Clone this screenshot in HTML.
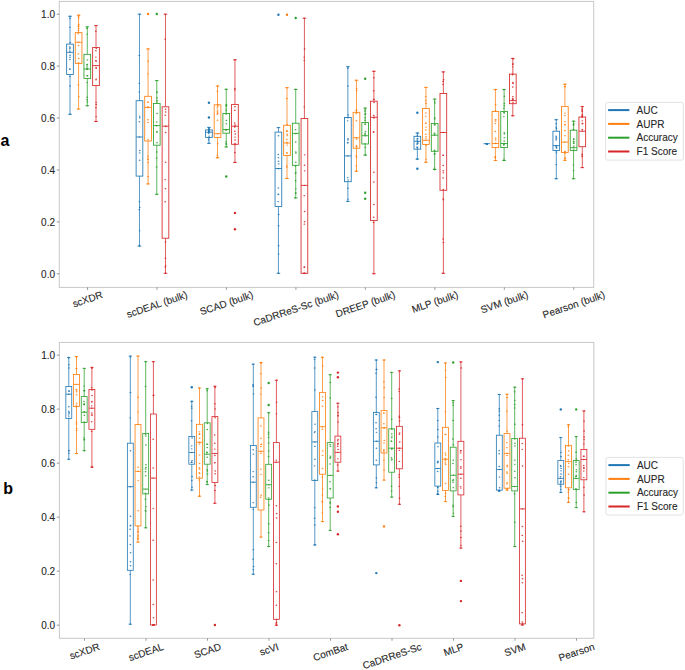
<!DOCTYPE html><html><head><meta charset="utf-8"><style>html,body{margin:0;padding:0;background:#fff;width:685px;height:670px;overflow:hidden}svg{display:block}.t{font-family:"Liberation Sans",sans-serif;font-size:10px;fill:#262626;stroke:#262626;stroke-width:0.1px}.L{font-family:"Liberation Sans",sans-serif;font-size:16px;font-weight:bold;fill:#000}</style></head><body>
<svg width="685" height="670" viewBox="0 0 685 670">
<rect width="685" height="670" fill="#fff"/>
<rect x="59.3" y="1.4" width="534.4" height="286" fill="none" stroke="#c8c8c8" stroke-width="1"/>
<line x1="56.7" y1="273.8" x2="59.3" y2="273.8" stroke="#8a8a8a" stroke-width="0.9"/>
<text x="55" y="277.7" class="t" text-anchor="end">0.0</text>
<line x1="56.7" y1="221.88" x2="59.3" y2="221.88" stroke="#8a8a8a" stroke-width="0.9"/>
<text x="55" y="225.78" class="t" text-anchor="end">0.2</text>
<line x1="56.7" y1="169.96" x2="59.3" y2="169.96" stroke="#8a8a8a" stroke-width="0.9"/>
<text x="55" y="173.86" class="t" text-anchor="end">0.4</text>
<line x1="56.7" y1="118.04" x2="59.3" y2="118.04" stroke="#8a8a8a" stroke-width="0.9"/>
<text x="55" y="121.94" class="t" text-anchor="end">0.6</text>
<line x1="56.7" y1="66.12" x2="59.3" y2="66.12" stroke="#8a8a8a" stroke-width="0.9"/>
<text x="55" y="70.02" class="t" text-anchor="end">0.8</text>
<line x1="56.7" y1="14.2" x2="59.3" y2="14.2" stroke="#8a8a8a" stroke-width="0.9"/>
<text x="55" y="18.1" class="t" text-anchor="end">1.0</text>
<line x1="87.5" y1="287.4" x2="87.5" y2="289.8" stroke="#8a8a8a" stroke-width="0.9"/>
<text class="t" text-anchor="middle" transform="translate(87.5 299.22) rotate(-18.7)" y="3.5">scXDR</text>
<line x1="156.97" y1="287.4" x2="156.97" y2="289.8" stroke="#8a8a8a" stroke-width="0.9"/>
<text class="t" text-anchor="middle" transform="translate(156.97 304.42) rotate(-18.7)" y="3.5">scDEAL (bulk)</text>
<line x1="226.44" y1="287.4" x2="226.44" y2="289.8" stroke="#8a8a8a" stroke-width="0.9"/>
<text class="t" text-anchor="middle" transform="translate(226.44 303.14) rotate(-18.7)" y="3.5">SCAD (bulk)</text>
<line x1="295.91" y1="287.4" x2="295.91" y2="289.8" stroke="#8a8a8a" stroke-width="0.9"/>
<text class="t" text-anchor="middle" transform="translate(295.91 308.58) rotate(-18.7)" y="3.5">CaDRReS-Sc (bulk)</text>
<line x1="365.38" y1="287.4" x2="365.38" y2="289.8" stroke="#8a8a8a" stroke-width="0.9"/>
<text class="t" text-anchor="middle" transform="translate(365.38 304.18) rotate(-18.7)" y="3.5">DREEP (bulk)</text>
<line x1="434.85" y1="287.4" x2="434.85" y2="289.8" stroke="#8a8a8a" stroke-width="0.9"/>
<text class="t" text-anchor="middle" transform="translate(434.85 301.96) rotate(-18.7)" y="3.5">MLP (bulk)</text>
<line x1="504.32" y1="287.4" x2="504.32" y2="289.8" stroke="#8a8a8a" stroke-width="0.9"/>
<text class="t" text-anchor="middle" transform="translate(504.32 302.16) rotate(-18.7)" y="3.5">SVM (bulk)</text>
<line x1="573.79" y1="287.4" x2="573.79" y2="289.8" stroke="#8a8a8a" stroke-width="0.9"/>
<text class="t" text-anchor="middle" transform="translate(573.79 304.66) rotate(-18.7)" y="3.5">Pearson (bulk)</text>
<g stroke="#1f77b4" stroke-width="0.85" fill="none">
<path stroke-width="0.75" d="M70 16.3V44.1M70 74.5V114.3"/>
<path d="M68.2 16.3h3.6M68.2 114.3h3.6"/>
<rect x="66.65" y="44.1" width="6.7" height="30.4"/>
<path d="M66.65 52.3h6.7"/>
</g>
<g fill="#1f77b4" fill-opacity="0.85">
<ellipse cx="69.81" cy="48.69" rx="0.9" ry="0.7"/>
<ellipse cx="70.05" cy="18.31" rx="0.9" ry="0.7"/>
<ellipse cx="70.08" cy="55.22" rx="0.9" ry="0.7"/>
<ellipse cx="69.92" cy="59.53" rx="0.9" ry="0.7"/>
<ellipse cx="70.03" cy="57.28" rx="0.9" ry="0.7"/>
<ellipse cx="69.74" cy="46.86" rx="0.9" ry="0.7"/>
<ellipse cx="69.74" cy="69.24" rx="0.9" ry="0.7"/>
<ellipse cx="69.82" cy="50.89" rx="0.9" ry="0.7"/>
<ellipse cx="70.11" cy="42.65" rx="0.9" ry="0.7"/>
<ellipse cx="69.96" cy="27.33" rx="0.9" ry="0.7"/>
<ellipse cx="69.89" cy="76.35" rx="0.9" ry="0.7"/>
<ellipse cx="70.05" cy="86.03" rx="0.9" ry="0.7"/>
<ellipse cx="69.97" cy="47.68" rx="0.9" ry="0.7"/>
<ellipse cx="69.88" cy="68.91" rx="0.9" ry="0.7"/>
<ellipse cx="70.18" cy="16.3" rx="0.9" ry="0.7"/>
<ellipse cx="70.12" cy="114.3" rx="0.9" ry="0.7"/>
<ellipse cx="69.85" cy="52.3" rx="0.9" ry="0.7"/>
</g>
<g stroke="#ff7f0e" stroke-width="0.85" fill="none">
<path stroke-width="0.75" d="M78.6 15.2V32.6M78.6 63.4V109"/>
<path d="M76.8 15.2h3.6M76.8 109h3.6"/>
<rect x="75.25" y="32.6" width="6.7" height="30.8"/>
<path d="M75.25 42.3h6.7"/>
</g>
<g fill="#ff7f0e" fill-opacity="0.85">
<ellipse cx="78.9" cy="24.34" rx="0.9" ry="0.7"/>
<ellipse cx="78.79" cy="96.66" rx="0.9" ry="0.7"/>
<ellipse cx="78.47" cy="62.79" rx="0.9" ry="0.7"/>
<ellipse cx="78.53" cy="45.48" rx="0.9" ry="0.7"/>
<ellipse cx="78.7" cy="17.84" rx="0.9" ry="0.7"/>
<ellipse cx="78.31" cy="33.81" rx="0.9" ry="0.7"/>
<ellipse cx="78.58" cy="28.5" rx="0.9" ry="0.7"/>
<ellipse cx="78.4" cy="30.43" rx="0.9" ry="0.7"/>
<ellipse cx="78.37" cy="54.02" rx="0.9" ry="0.7"/>
<ellipse cx="78.34" cy="25.29" rx="0.9" ry="0.7"/>
<ellipse cx="78.76" cy="58.47" rx="0.9" ry="0.7"/>
<ellipse cx="78.38" cy="85.02" rx="0.9" ry="0.7"/>
<ellipse cx="78.45" cy="16.26" rx="0.9" ry="0.7"/>
<ellipse cx="78.53" cy="26.46" rx="0.9" ry="0.7"/>
<ellipse cx="78.82" cy="15.2" rx="0.9" ry="0.7"/>
<ellipse cx="78.35" cy="109" rx="0.9" ry="0.7"/>
<ellipse cx="78.57" cy="42.3" rx="0.9" ry="0.7"/>
</g>
<g stroke="#2ca02c" stroke-width="0.85" fill="none">
<path stroke-width="0.75" d="M87.3 26.9V54.3M87.3 78.5V105.7"/>
<path d="M85.5 26.9h3.6M85.5 105.7h3.6"/>
<rect x="83.95" y="54.3" width="6.7" height="24.2"/>
<path d="M83.95 69h6.7"/>
</g>
<g fill="#2ca02c" fill-opacity="0.85">
<ellipse cx="87.52" cy="75.68" rx="0.9" ry="0.7"/>
<ellipse cx="87.48" cy="102" rx="0.9" ry="0.7"/>
<ellipse cx="87.24" cy="64.35" rx="0.9" ry="0.7"/>
<ellipse cx="87.24" cy="75.7" rx="0.9" ry="0.7"/>
<ellipse cx="87.06" cy="82.61" rx="0.9" ry="0.7"/>
<ellipse cx="87.38" cy="59.91" rx="0.9" ry="0.7"/>
<ellipse cx="87.04" cy="66.04" rx="0.9" ry="0.7"/>
<ellipse cx="87.04" cy="34.1" rx="0.9" ry="0.7"/>
<ellipse cx="87.13" cy="64.44" rx="0.9" ry="0.7"/>
<ellipse cx="87.1" cy="68.01" rx="0.9" ry="0.7"/>
<ellipse cx="87.2" cy="97.28" rx="0.9" ry="0.7"/>
<ellipse cx="87.03" cy="69.25" rx="0.9" ry="0.7"/>
<ellipse cx="87" cy="28.38" rx="0.9" ry="0.7"/>
<ellipse cx="87.09" cy="99.72" rx="0.9" ry="0.7"/>
<ellipse cx="87.06" cy="26.9" rx="0.9" ry="0.7"/>
<ellipse cx="87.22" cy="105.7" rx="0.9" ry="0.7"/>
<ellipse cx="87.02" cy="69" rx="0.9" ry="0.7"/>
</g>
<g stroke="#d62728" stroke-width="0.85" fill="none">
<path stroke-width="0.75" d="M96 25.6V47.5M96 85.6V121.5"/>
<path d="M94.2 25.6h3.6M94.2 121.5h3.6"/>
<rect x="92.65" y="47.5" width="6.7" height="38.1"/>
<path d="M92.65 65.6h6.7"/>
</g>
<g fill="#d62728" fill-opacity="0.85">
<ellipse cx="95.92" cy="107.65" rx="0.9" ry="0.7"/>
<ellipse cx="95.8" cy="57.11" rx="0.9" ry="0.7"/>
<ellipse cx="96.16" cy="61.37" rx="0.9" ry="0.7"/>
<ellipse cx="96.02" cy="79.84" rx="0.9" ry="0.7"/>
<ellipse cx="96.17" cy="102.33" rx="0.9" ry="0.7"/>
<ellipse cx="95.9" cy="50.77" rx="0.9" ry="0.7"/>
<ellipse cx="95.83" cy="60.55" rx="0.9" ry="0.7"/>
<ellipse cx="96.19" cy="79.08" rx="0.9" ry="0.7"/>
<ellipse cx="96.29" cy="48.38" rx="0.9" ry="0.7"/>
<ellipse cx="96.21" cy="104.56" rx="0.9" ry="0.7"/>
<ellipse cx="96.18" cy="68.19" rx="0.9" ry="0.7"/>
<ellipse cx="96.19" cy="67.62" rx="0.9" ry="0.7"/>
<ellipse cx="96.14" cy="116.59" rx="0.9" ry="0.7"/>
<ellipse cx="95.84" cy="31.32" rx="0.9" ry="0.7"/>
<ellipse cx="96.01" cy="25.6" rx="0.9" ry="0.7"/>
<ellipse cx="95.91" cy="121.5" rx="0.9" ry="0.7"/>
<ellipse cx="95.72" cy="65.6" rx="0.9" ry="0.7"/>
</g>
<g stroke="#1f77b4" stroke-width="0.85" fill="none">
<path stroke-width="0.75" d="M139.47 14.2V100.7M139.47 176.1V246.1"/>
<path d="M137.67 14.2h3.6M137.67 246.1h3.6"/>
<rect x="136.12" y="100.7" width="6.7" height="75.4"/>
<path d="M136.12 137h6.7"/>
</g>
<g fill="#1f77b4" fill-opacity="0.85">
<ellipse cx="139.37" cy="121.77" rx="0.9" ry="0.7"/>
<ellipse cx="139.65" cy="152.92" rx="0.9" ry="0.7"/>
<ellipse cx="139.75" cy="207.41" rx="0.9" ry="0.7"/>
<ellipse cx="139.41" cy="245.26" rx="0.9" ry="0.7"/>
<ellipse cx="139.41" cy="201.62" rx="0.9" ry="0.7"/>
<ellipse cx="139.74" cy="117.8" rx="0.9" ry="0.7"/>
<ellipse cx="139.6" cy="116.11" rx="0.9" ry="0.7"/>
<ellipse cx="139.27" cy="92.08" rx="0.9" ry="0.7"/>
<ellipse cx="139.25" cy="209.66" rx="0.9" ry="0.7"/>
<ellipse cx="139.26" cy="83.37" rx="0.9" ry="0.7"/>
<ellipse cx="139.71" cy="150.51" rx="0.9" ry="0.7"/>
<ellipse cx="139.65" cy="230.86" rx="0.9" ry="0.7"/>
<ellipse cx="139.26" cy="55.55" rx="0.9" ry="0.7"/>
<ellipse cx="139.67" cy="160.2" rx="0.9" ry="0.7"/>
<ellipse cx="139.76" cy="14.2" rx="0.9" ry="0.7"/>
<ellipse cx="139.56" cy="246.1" rx="0.9" ry="0.7"/>
<ellipse cx="139.38" cy="137" rx="0.9" ry="0.7"/>
</g>
<g stroke="#ff7f0e" stroke-width="0.85" fill="none">
<path stroke-width="0.75" d="M148.07 48.9V96.3M148.07 141V183.9"/>
<path d="M146.27 48.9h3.6M146.27 183.9h3.6"/>
<rect x="144.72" y="96.3" width="6.7" height="44.7"/>
<path d="M144.72 107.4h6.7"/>
</g>
<g fill="#ff7f0e" fill-opacity="0.85">
<ellipse cx="147.78" cy="102.15" rx="0.9" ry="0.7"/>
<ellipse cx="148.03" cy="139.7" rx="0.9" ry="0.7"/>
<ellipse cx="147.88" cy="73.86" rx="0.9" ry="0.7"/>
<ellipse cx="147.77" cy="159.61" rx="0.9" ry="0.7"/>
<ellipse cx="148.25" cy="176.44" rx="0.9" ry="0.7"/>
<ellipse cx="147.87" cy="107.56" rx="0.9" ry="0.7"/>
<ellipse cx="148.05" cy="107.05" rx="0.9" ry="0.7"/>
<ellipse cx="148.21" cy="61.19" rx="0.9" ry="0.7"/>
<ellipse cx="148.1" cy="102.16" rx="0.9" ry="0.7"/>
<ellipse cx="147.97" cy="156.18" rx="0.9" ry="0.7"/>
<ellipse cx="148.08" cy="122.38" rx="0.9" ry="0.7"/>
<ellipse cx="148.1" cy="159.04" rx="0.9" ry="0.7"/>
<ellipse cx="148.24" cy="162.52" rx="0.9" ry="0.7"/>
<ellipse cx="147.83" cy="119.7" rx="0.9" ry="0.7"/>
<ellipse cx="148.11" cy="48.9" rx="0.9" ry="0.7"/>
<ellipse cx="147.92" cy="183.9" rx="0.9" ry="0.7"/>
<ellipse cx="147.94" cy="107.4" rx="0.9" ry="0.7"/>
</g>
<circle cx="148.07" cy="14" r="1.2" fill="#ff7f0e"/>
<g stroke="#2ca02c" stroke-width="0.85" fill="none">
<path stroke-width="0.75" d="M156.77 80.6V103.4M156.77 145.2V194.3"/>
<path d="M154.97 80.6h3.6M154.97 194.3h3.6"/>
<rect x="153.42" y="103.4" width="6.7" height="41.8"/>
<path d="M153.42 125.6h6.7"/>
</g>
<g fill="#2ca02c" fill-opacity="0.85">
<ellipse cx="156.94" cy="92.18" rx="0.9" ry="0.7"/>
<ellipse cx="157.01" cy="97.93" rx="0.9" ry="0.7"/>
<ellipse cx="156.56" cy="166.96" rx="0.9" ry="0.7"/>
<ellipse cx="156.9" cy="92.13" rx="0.9" ry="0.7"/>
<ellipse cx="156.87" cy="132.36" rx="0.9" ry="0.7"/>
<ellipse cx="156.56" cy="125.69" rx="0.9" ry="0.7"/>
<ellipse cx="157" cy="142.75" rx="0.9" ry="0.7"/>
<ellipse cx="157.05" cy="100.59" rx="0.9" ry="0.7"/>
<ellipse cx="156.6" cy="157.95" rx="0.9" ry="0.7"/>
<ellipse cx="157.04" cy="102.11" rx="0.9" ry="0.7"/>
<ellipse cx="156.71" cy="151.93" rx="0.9" ry="0.7"/>
<ellipse cx="156.76" cy="121.88" rx="0.9" ry="0.7"/>
<ellipse cx="157.06" cy="113.46" rx="0.9" ry="0.7"/>
<ellipse cx="156.97" cy="131.38" rx="0.9" ry="0.7"/>
<ellipse cx="156.57" cy="80.6" rx="0.9" ry="0.7"/>
<ellipse cx="156.73" cy="194.3" rx="0.9" ry="0.7"/>
<ellipse cx="156.78" cy="125.6" rx="0.9" ry="0.7"/>
</g>
<circle cx="156.77" cy="14" r="1.2" fill="#2ca02c"/>
<g stroke="#d62728" stroke-width="0.85" fill="none">
<path stroke-width="0.75" d="M165.47 14.2V106.8M165.47 238.2V273.3"/>
<path d="M163.67 14.2h3.6M163.67 273.3h3.6"/>
<rect x="162.12" y="106.8" width="6.7" height="131.4"/>
<path d="M162.12 126.2h6.7"/>
</g>
<g fill="#d62728" fill-opacity="0.85">
<ellipse cx="165.59" cy="132.52" rx="0.9" ry="0.7"/>
<ellipse cx="165.22" cy="201.69" rx="0.9" ry="0.7"/>
<ellipse cx="165.2" cy="179.6" rx="0.9" ry="0.7"/>
<ellipse cx="165.58" cy="109.18" rx="0.9" ry="0.7"/>
<ellipse cx="165.43" cy="188.78" rx="0.9" ry="0.7"/>
<ellipse cx="165.21" cy="115.25" rx="0.9" ry="0.7"/>
<ellipse cx="165.73" cy="265.87" rx="0.9" ry="0.7"/>
<ellipse cx="165.55" cy="241.88" rx="0.9" ry="0.7"/>
<ellipse cx="165.65" cy="112" rx="0.9" ry="0.7"/>
<ellipse cx="165.22" cy="39.24" rx="0.9" ry="0.7"/>
<ellipse cx="165.68" cy="162.28" rx="0.9" ry="0.7"/>
<ellipse cx="165.21" cy="266.95" rx="0.9" ry="0.7"/>
<ellipse cx="165.69" cy="126.43" rx="0.9" ry="0.7"/>
<ellipse cx="165.44" cy="258.23" rx="0.9" ry="0.7"/>
<ellipse cx="165.37" cy="14.2" rx="0.9" ry="0.7"/>
<ellipse cx="165.5" cy="273.3" rx="0.9" ry="0.7"/>
<ellipse cx="165.73" cy="126.2" rx="0.9" ry="0.7"/>
</g>
<g stroke="#1f77b4" stroke-width="0.85" fill="none">
<path stroke-width="0.75" d="M208.94 127.4V129.9M208.94 137.4V143.3"/>
<path d="M207.14 127.4h3.6M207.14 143.3h3.6"/>
<rect x="205.59" y="129.9" width="6.7" height="7.5"/>
<path d="M205.59 132.2h6.7"/>
</g>
<g fill="#1f77b4" fill-opacity="0.85">
<ellipse cx="208.88" cy="130.87" rx="0.9" ry="0.7"/>
<ellipse cx="208.94" cy="131.69" rx="0.9" ry="0.7"/>
<ellipse cx="209.05" cy="131.11" rx="0.9" ry="0.7"/>
<ellipse cx="209.23" cy="131.41" rx="0.9" ry="0.7"/>
<ellipse cx="208.85" cy="132.19" rx="0.9" ry="0.7"/>
<ellipse cx="209.14" cy="128.12" rx="0.9" ry="0.7"/>
<ellipse cx="209.06" cy="131.23" rx="0.9" ry="0.7"/>
<ellipse cx="209.02" cy="130.04" rx="0.9" ry="0.7"/>
<ellipse cx="208.88" cy="130.02" rx="0.9" ry="0.7"/>
<ellipse cx="208.85" cy="128.78" rx="0.9" ry="0.7"/>
<ellipse cx="208.67" cy="133.46" rx="0.9" ry="0.7"/>
<ellipse cx="208.72" cy="138.03" rx="0.9" ry="0.7"/>
<ellipse cx="208.68" cy="139.95" rx="0.9" ry="0.7"/>
<ellipse cx="209.08" cy="136.16" rx="0.9" ry="0.7"/>
<ellipse cx="208.79" cy="127.4" rx="0.9" ry="0.7"/>
<ellipse cx="208.74" cy="143.3" rx="0.9" ry="0.7"/>
<ellipse cx="208.69" cy="132.2" rx="0.9" ry="0.7"/>
</g>
<circle cx="208.94" cy="102.7" r="1.2" fill="#1f77b4"/>
<circle cx="208.94" cy="117.5" r="1.2" fill="#1f77b4"/>
<g stroke="#ff7f0e" stroke-width="0.85" fill="none">
<path stroke-width="0.75" d="M217.54 86V104.8M217.54 137.4V157.8"/>
<path d="M215.74 86h3.6M215.74 157.8h3.6"/>
<rect x="214.19" y="104.8" width="6.7" height="32.6"/>
<path d="M214.19 133.7h6.7"/>
</g>
<g fill="#ff7f0e" fill-opacity="0.85">
<ellipse cx="217.25" cy="155.16" rx="0.9" ry="0.7"/>
<ellipse cx="217.42" cy="91.3" rx="0.9" ry="0.7"/>
<ellipse cx="217.38" cy="114.35" rx="0.9" ry="0.7"/>
<ellipse cx="217.59" cy="109.94" rx="0.9" ry="0.7"/>
<ellipse cx="217.56" cy="113.38" rx="0.9" ry="0.7"/>
<ellipse cx="217.69" cy="157.24" rx="0.9" ry="0.7"/>
<ellipse cx="217.63" cy="112.77" rx="0.9" ry="0.7"/>
<ellipse cx="217.67" cy="143.71" rx="0.9" ry="0.7"/>
<ellipse cx="217.77" cy="104.83" rx="0.9" ry="0.7"/>
<ellipse cx="217.47" cy="120.27" rx="0.9" ry="0.7"/>
<ellipse cx="217.44" cy="111.35" rx="0.9" ry="0.7"/>
<ellipse cx="217.83" cy="104.96" rx="0.9" ry="0.7"/>
<ellipse cx="217.33" cy="107.73" rx="0.9" ry="0.7"/>
<ellipse cx="217.67" cy="106.16" rx="0.9" ry="0.7"/>
<ellipse cx="217.63" cy="86" rx="0.9" ry="0.7"/>
<ellipse cx="217.27" cy="157.8" rx="0.9" ry="0.7"/>
<ellipse cx="217.74" cy="133.7" rx="0.9" ry="0.7"/>
</g>
<g stroke="#2ca02c" stroke-width="0.85" fill="none">
<path stroke-width="0.75" d="M226.24 89.3V113.4M226.24 133.2V146.9"/>
<path d="M224.44 89.3h3.6M224.44 146.9h3.6"/>
<rect x="222.89" y="113.4" width="6.7" height="19.8"/>
<path d="M222.89 129.5h6.7"/>
</g>
<g fill="#2ca02c" fill-opacity="0.85">
<ellipse cx="226.24" cy="141.79" rx="0.9" ry="0.7"/>
<ellipse cx="226.26" cy="108.87" rx="0.9" ry="0.7"/>
<ellipse cx="226.34" cy="123.77" rx="0.9" ry="0.7"/>
<ellipse cx="225.98" cy="129.93" rx="0.9" ry="0.7"/>
<ellipse cx="226.38" cy="144.52" rx="0.9" ry="0.7"/>
<ellipse cx="226.09" cy="110.82" rx="0.9" ry="0.7"/>
<ellipse cx="225.98" cy="106.01" rx="0.9" ry="0.7"/>
<ellipse cx="226.1" cy="114.02" rx="0.9" ry="0.7"/>
<ellipse cx="226.38" cy="120.54" rx="0.9" ry="0.7"/>
<ellipse cx="226.06" cy="129.95" rx="0.9" ry="0.7"/>
<ellipse cx="226.38" cy="104.43" rx="0.9" ry="0.7"/>
<ellipse cx="226.53" cy="105.7" rx="0.9" ry="0.7"/>
<ellipse cx="226.24" cy="113.47" rx="0.9" ry="0.7"/>
<ellipse cx="226.17" cy="143.45" rx="0.9" ry="0.7"/>
<ellipse cx="226.23" cy="89.3" rx="0.9" ry="0.7"/>
<ellipse cx="226.35" cy="146.9" rx="0.9" ry="0.7"/>
<ellipse cx="226.4" cy="129.5" rx="0.9" ry="0.7"/>
</g>
<circle cx="226.24" cy="176.5" r="1.2" fill="#2ca02c"/>
<g stroke="#d62728" stroke-width="0.85" fill="none">
<path stroke-width="0.75" d="M234.94 59.8V104.4M234.94 144.3V162.4"/>
<path d="M233.14 59.8h3.6M233.14 162.4h3.6"/>
<rect x="231.59" y="104.4" width="6.7" height="39.9"/>
<path d="M231.59 126.2h6.7"/>
</g>
<g fill="#d62728" fill-opacity="0.85">
<ellipse cx="234.8" cy="88.47" rx="0.9" ry="0.7"/>
<ellipse cx="234.77" cy="110.28" rx="0.9" ry="0.7"/>
<ellipse cx="235.21" cy="134.05" rx="0.9" ry="0.7"/>
<ellipse cx="234.77" cy="127.05" rx="0.9" ry="0.7"/>
<ellipse cx="234.99" cy="106.82" rx="0.9" ry="0.7"/>
<ellipse cx="234.73" cy="131.21" rx="0.9" ry="0.7"/>
<ellipse cx="234.95" cy="89.94" rx="0.9" ry="0.7"/>
<ellipse cx="235.21" cy="125.01" rx="0.9" ry="0.7"/>
<ellipse cx="234.72" cy="123.01" rx="0.9" ry="0.7"/>
<ellipse cx="235.13" cy="140.06" rx="0.9" ry="0.7"/>
<ellipse cx="234.95" cy="143.43" rx="0.9" ry="0.7"/>
<ellipse cx="235.17" cy="144.62" rx="0.9" ry="0.7"/>
<ellipse cx="235.06" cy="137.11" rx="0.9" ry="0.7"/>
<ellipse cx="234.78" cy="152.44" rx="0.9" ry="0.7"/>
<ellipse cx="235.18" cy="59.8" rx="0.9" ry="0.7"/>
<ellipse cx="234.93" cy="162.4" rx="0.9" ry="0.7"/>
<ellipse cx="234.65" cy="126.2" rx="0.9" ry="0.7"/>
</g>
<circle cx="234.94" cy="213" r="1.2" fill="#d62728"/>
<circle cx="234.94" cy="229.3" r="1.2" fill="#d62728"/>
<g stroke="#1f77b4" stroke-width="0.85" fill="none">
<path stroke-width="0.75" d="M278.41 127.6V132.1M278.41 206.4V273.3"/>
<path d="M276.61 127.6h3.6M276.61 273.3h3.6"/>
<rect x="275.06" y="132.1" width="6.7" height="74.3"/>
<path d="M275.06 168.5h6.7"/>
</g>
<g fill="#1f77b4" fill-opacity="0.85">
<ellipse cx="278.26" cy="168.63" rx="0.9" ry="0.7"/>
<ellipse cx="278.27" cy="154.53" rx="0.9" ry="0.7"/>
<ellipse cx="278.42" cy="157.66" rx="0.9" ry="0.7"/>
<ellipse cx="278.22" cy="194.53" rx="0.9" ry="0.7"/>
<ellipse cx="278.33" cy="187.88" rx="0.9" ry="0.7"/>
<ellipse cx="278.68" cy="214.43" rx="0.9" ry="0.7"/>
<ellipse cx="278.64" cy="254.1" rx="0.9" ry="0.7"/>
<ellipse cx="278.6" cy="225.79" rx="0.9" ry="0.7"/>
<ellipse cx="278.49" cy="161.29" rx="0.9" ry="0.7"/>
<ellipse cx="278.66" cy="245.82" rx="0.9" ry="0.7"/>
<ellipse cx="278.67" cy="163.9" rx="0.9" ry="0.7"/>
<ellipse cx="278.44" cy="135.69" rx="0.9" ry="0.7"/>
<ellipse cx="278.54" cy="194.12" rx="0.9" ry="0.7"/>
<ellipse cx="278.14" cy="201.61" rx="0.9" ry="0.7"/>
<ellipse cx="278.55" cy="127.6" rx="0.9" ry="0.7"/>
<ellipse cx="278.38" cy="273.3" rx="0.9" ry="0.7"/>
<ellipse cx="278.56" cy="168.5" rx="0.9" ry="0.7"/>
</g>
<circle cx="278.41" cy="14.8" r="1.2" fill="#1f77b4"/>
<g stroke="#ff7f0e" stroke-width="0.85" fill="none">
<path stroke-width="0.75" d="M287.01 87.7V125.3M287.01 155.5V178.5"/>
<path d="M285.21 87.7h3.6M285.21 178.5h3.6"/>
<rect x="283.66" y="125.3" width="6.7" height="30.2"/>
<path d="M283.66 143h6.7"/>
</g>
<g fill="#ff7f0e" fill-opacity="0.85">
<ellipse cx="286.76" cy="98.46" rx="0.9" ry="0.7"/>
<ellipse cx="286.85" cy="153.29" rx="0.9" ry="0.7"/>
<ellipse cx="286.87" cy="139.56" rx="0.9" ry="0.7"/>
<ellipse cx="287.05" cy="134.29" rx="0.9" ry="0.7"/>
<ellipse cx="287.24" cy="124.41" rx="0.9" ry="0.7"/>
<ellipse cx="287.16" cy="145.11" rx="0.9" ry="0.7"/>
<ellipse cx="286.96" cy="142.13" rx="0.9" ry="0.7"/>
<ellipse cx="286.96" cy="130.35" rx="0.9" ry="0.7"/>
<ellipse cx="287.02" cy="131.58" rx="0.9" ry="0.7"/>
<ellipse cx="286.94" cy="166.93" rx="0.9" ry="0.7"/>
<ellipse cx="286.91" cy="152.67" rx="0.9" ry="0.7"/>
<ellipse cx="286.75" cy="165.85" rx="0.9" ry="0.7"/>
<ellipse cx="286.88" cy="131.11" rx="0.9" ry="0.7"/>
<ellipse cx="287.29" cy="135.63" rx="0.9" ry="0.7"/>
<ellipse cx="286.79" cy="87.7" rx="0.9" ry="0.7"/>
<ellipse cx="287.01" cy="178.5" rx="0.9" ry="0.7"/>
<ellipse cx="287.09" cy="143" rx="0.9" ry="0.7"/>
</g>
<circle cx="287.01" cy="14.8" r="1.2" fill="#ff7f0e"/>
<g stroke="#2ca02c" stroke-width="0.85" fill="none">
<path stroke-width="0.75" d="M295.71 89.4V123.2M295.71 165.3V197.9"/>
<path d="M293.91 89.4h3.6M293.91 197.9h3.6"/>
<rect x="292.36" y="123.2" width="6.7" height="42.1"/>
<path d="M292.36 133.4h6.7"/>
</g>
<g fill="#2ca02c" fill-opacity="0.85">
<ellipse cx="295.8" cy="172.34" rx="0.9" ry="0.7"/>
<ellipse cx="295.87" cy="133.66" rx="0.9" ry="0.7"/>
<ellipse cx="295.68" cy="141.97" rx="0.9" ry="0.7"/>
<ellipse cx="295.74" cy="192.97" rx="0.9" ry="0.7"/>
<ellipse cx="295.43" cy="166.01" rx="0.9" ry="0.7"/>
<ellipse cx="295.88" cy="153.07" rx="0.9" ry="0.7"/>
<ellipse cx="295.55" cy="180.73" rx="0.9" ry="0.7"/>
<ellipse cx="295.96" cy="89.41" rx="0.9" ry="0.7"/>
<ellipse cx="295.8" cy="162.22" rx="0.9" ry="0.7"/>
<ellipse cx="295.59" cy="193.19" rx="0.9" ry="0.7"/>
<ellipse cx="295.49" cy="173.4" rx="0.9" ry="0.7"/>
<ellipse cx="295.56" cy="129.7" rx="0.9" ry="0.7"/>
<ellipse cx="295.79" cy="151.92" rx="0.9" ry="0.7"/>
<ellipse cx="295.83" cy="188.83" rx="0.9" ry="0.7"/>
<ellipse cx="295.48" cy="89.4" rx="0.9" ry="0.7"/>
<ellipse cx="295.45" cy="197.9" rx="0.9" ry="0.7"/>
<ellipse cx="295.72" cy="133.4" rx="0.9" ry="0.7"/>
</g>
<circle cx="295.71" cy="18" r="1.2" fill="#2ca02c"/>
<g stroke="#d62728" stroke-width="0.85" fill="none">
<path stroke-width="0.75" d="M304.41 18.2V118.5M304.41 273.3V273.3"/>
<path d="M302.61 18.2h3.6M302.61 273.3h3.6"/>
<rect x="301.06" y="118.5" width="6.7" height="154.8"/>
<path d="M301.06 185.4h6.7"/>
</g>
<g fill="#d62728" fill-opacity="0.85">
<ellipse cx="304.23" cy="57.12" rx="0.9" ry="0.7"/>
<ellipse cx="304.59" cy="211.54" rx="0.9" ry="0.7"/>
<ellipse cx="304.55" cy="165.18" rx="0.9" ry="0.7"/>
<ellipse cx="304.41" cy="266.94" rx="0.9" ry="0.7"/>
<ellipse cx="304.23" cy="106.84" rx="0.9" ry="0.7"/>
<ellipse cx="304.69" cy="154.84" rx="0.9" ry="0.7"/>
<ellipse cx="304.3" cy="267.2" rx="0.9" ry="0.7"/>
<ellipse cx="304.6" cy="49.03" rx="0.9" ry="0.7"/>
<ellipse cx="304.25" cy="195.64" rx="0.9" ry="0.7"/>
<ellipse cx="304.24" cy="60.33" rx="0.9" ry="0.7"/>
<ellipse cx="304.57" cy="221.81" rx="0.9" ry="0.7"/>
<ellipse cx="304.29" cy="273.3" rx="0.9" ry="0.7"/>
<ellipse cx="304.68" cy="170.83" rx="0.9" ry="0.7"/>
<ellipse cx="304.41" cy="224.16" rx="0.9" ry="0.7"/>
<ellipse cx="304.22" cy="18.2" rx="0.9" ry="0.7"/>
<ellipse cx="304.24" cy="273.3" rx="0.9" ry="0.7"/>
<ellipse cx="304.36" cy="185.4" rx="0.9" ry="0.7"/>
</g>
<g stroke="#1f77b4" stroke-width="0.85" fill="none">
<path stroke-width="0.75" d="M347.88 66.7V117.5M347.88 181.7V201.4"/>
<path d="M346.08 66.7h3.6M346.08 201.4h3.6"/>
<rect x="344.53" y="117.5" width="6.7" height="64.2"/>
<path d="M344.53 155.9h6.7"/>
</g>
<g fill="#1f77b4" fill-opacity="0.85">
<ellipse cx="348.15" cy="114.9" rx="0.9" ry="0.7"/>
<ellipse cx="347.65" cy="142.76" rx="0.9" ry="0.7"/>
<ellipse cx="348.16" cy="180.04" rx="0.9" ry="0.7"/>
<ellipse cx="347.7" cy="120.83" rx="0.9" ry="0.7"/>
<ellipse cx="347.79" cy="142.75" rx="0.9" ry="0.7"/>
<ellipse cx="348.07" cy="199.11" rx="0.9" ry="0.7"/>
<ellipse cx="348.07" cy="117.37" rx="0.9" ry="0.7"/>
<ellipse cx="347.84" cy="188.19" rx="0.9" ry="0.7"/>
<ellipse cx="347.61" cy="177.58" rx="0.9" ry="0.7"/>
<ellipse cx="347.86" cy="68.32" rx="0.9" ry="0.7"/>
<ellipse cx="347.8" cy="85.93" rx="0.9" ry="0.7"/>
<ellipse cx="348.13" cy="138.79" rx="0.9" ry="0.7"/>
<ellipse cx="347.7" cy="117.68" rx="0.9" ry="0.7"/>
<ellipse cx="347.8" cy="140.06" rx="0.9" ry="0.7"/>
<ellipse cx="348.12" cy="66.7" rx="0.9" ry="0.7"/>
<ellipse cx="347.6" cy="201.4" rx="0.9" ry="0.7"/>
<ellipse cx="347.83" cy="155.9" rx="0.9" ry="0.7"/>
</g>
<g stroke="#ff7f0e" stroke-width="0.85" fill="none">
<path stroke-width="0.75" d="M356.48 80.3V112.3M356.48 148.2V171.2"/>
<path d="M354.68 80.3h3.6M354.68 171.2h3.6"/>
<rect x="353.13" y="112.3" width="6.7" height="35.9"/>
<path d="M353.13 137.8h6.7"/>
</g>
<g fill="#ff7f0e" fill-opacity="0.85">
<ellipse cx="356.33" cy="165.83" rx="0.9" ry="0.7"/>
<ellipse cx="356.44" cy="113.55" rx="0.9" ry="0.7"/>
<ellipse cx="356.48" cy="145.33" rx="0.9" ry="0.7"/>
<ellipse cx="356.74" cy="139.13" rx="0.9" ry="0.7"/>
<ellipse cx="356.29" cy="156" rx="0.9" ry="0.7"/>
<ellipse cx="356.66" cy="146.68" rx="0.9" ry="0.7"/>
<ellipse cx="356.62" cy="88.69" rx="0.9" ry="0.7"/>
<ellipse cx="356.67" cy="90.43" rx="0.9" ry="0.7"/>
<ellipse cx="356.64" cy="112.44" rx="0.9" ry="0.7"/>
<ellipse cx="356.54" cy="109.63" rx="0.9" ry="0.7"/>
<ellipse cx="356.38" cy="110.48" rx="0.9" ry="0.7"/>
<ellipse cx="356.37" cy="120.7" rx="0.9" ry="0.7"/>
<ellipse cx="356.4" cy="146.65" rx="0.9" ry="0.7"/>
<ellipse cx="356.65" cy="157.09" rx="0.9" ry="0.7"/>
<ellipse cx="356.23" cy="80.3" rx="0.9" ry="0.7"/>
<ellipse cx="356.3" cy="171.2" rx="0.9" ry="0.7"/>
<ellipse cx="356.63" cy="137.8" rx="0.9" ry="0.7"/>
</g>
<g stroke="#2ca02c" stroke-width="0.85" fill="none">
<path stroke-width="0.75" d="M365.18 108.1V122.5M365.18 144V155.1"/>
<path d="M363.38 108.1h3.6M363.38 155.1h3.6"/>
<rect x="361.83" y="122.5" width="6.7" height="21.5"/>
<path d="M361.83 135.7h6.7"/>
</g>
<g fill="#2ca02c" fill-opacity="0.85">
<ellipse cx="365.03" cy="123.89" rx="0.9" ry="0.7"/>
<ellipse cx="365.03" cy="134.38" rx="0.9" ry="0.7"/>
<ellipse cx="364.97" cy="143.58" rx="0.9" ry="0.7"/>
<ellipse cx="365.41" cy="154.96" rx="0.9" ry="0.7"/>
<ellipse cx="365.23" cy="124.31" rx="0.9" ry="0.7"/>
<ellipse cx="365.08" cy="133.22" rx="0.9" ry="0.7"/>
<ellipse cx="365.12" cy="114.54" rx="0.9" ry="0.7"/>
<ellipse cx="365.48" cy="131.46" rx="0.9" ry="0.7"/>
<ellipse cx="365.18" cy="117.81" rx="0.9" ry="0.7"/>
<ellipse cx="365.02" cy="120.3" rx="0.9" ry="0.7"/>
<ellipse cx="365.37" cy="109.84" rx="0.9" ry="0.7"/>
<ellipse cx="365.27" cy="147.26" rx="0.9" ry="0.7"/>
<ellipse cx="365.47" cy="113.47" rx="0.9" ry="0.7"/>
<ellipse cx="364.94" cy="110.97" rx="0.9" ry="0.7"/>
<ellipse cx="365.16" cy="108.1" rx="0.9" ry="0.7"/>
<ellipse cx="365.37" cy="155.1" rx="0.9" ry="0.7"/>
<ellipse cx="365.38" cy="135.7" rx="0.9" ry="0.7"/>
</g>
<circle cx="365.18" cy="78.8" r="1.2" fill="#2ca02c"/>
<circle cx="365.18" cy="192.8" r="1.2" fill="#2ca02c"/>
<circle cx="365.18" cy="198.7" r="1.2" fill="#2ca02c"/>
<g stroke="#d62728" stroke-width="0.85" fill="none">
<path stroke-width="0.75" d="M373.88 71.3V101.2M373.88 220.4V273.7"/>
<path d="M372.08 71.3h3.6M372.08 273.7h3.6"/>
<rect x="370.53" y="101.2" width="6.7" height="119.2"/>
<path d="M370.53 117.3h6.7"/>
</g>
<g fill="#d62728" fill-opacity="0.85">
<ellipse cx="373.69" cy="222.55" rx="0.9" ry="0.7"/>
<ellipse cx="373.77" cy="115.41" rx="0.9" ry="0.7"/>
<ellipse cx="373.7" cy="217.18" rx="0.9" ry="0.7"/>
<ellipse cx="374.06" cy="99.11" rx="0.9" ry="0.7"/>
<ellipse cx="373.91" cy="204.44" rx="0.9" ry="0.7"/>
<ellipse cx="373.62" cy="132.19" rx="0.9" ry="0.7"/>
<ellipse cx="373.64" cy="99.58" rx="0.9" ry="0.7"/>
<ellipse cx="373.82" cy="172.26" rx="0.9" ry="0.7"/>
<ellipse cx="373.91" cy="77.81" rx="0.9" ry="0.7"/>
<ellipse cx="373.96" cy="118.05" rx="0.9" ry="0.7"/>
<ellipse cx="373.63" cy="131.59" rx="0.9" ry="0.7"/>
<ellipse cx="373.68" cy="90.78" rx="0.9" ry="0.7"/>
<ellipse cx="374" cy="102.56" rx="0.9" ry="0.7"/>
<ellipse cx="373.83" cy="182.06" rx="0.9" ry="0.7"/>
<ellipse cx="373.75" cy="71.3" rx="0.9" ry="0.7"/>
<ellipse cx="373.76" cy="273.7" rx="0.9" ry="0.7"/>
<ellipse cx="374.15" cy="117.3" rx="0.9" ry="0.7"/>
</g>
<g stroke="#1f77b4" stroke-width="0.85" fill="none">
<path stroke-width="0.75" d="M417.35 133V136.3M417.35 149.2V159.1"/>
<path d="M415.55 133h3.6M415.55 159.1h3.6"/>
<rect x="414" y="136.3" width="6.7" height="12.9"/>
<path d="M414 141.3h6.7"/>
</g>
<g fill="#1f77b4" fill-opacity="0.85">
<ellipse cx="417.36" cy="143.61" rx="0.9" ry="0.7"/>
<ellipse cx="417.61" cy="141.67" rx="0.9" ry="0.7"/>
<ellipse cx="417.12" cy="159.07" rx="0.9" ry="0.7"/>
<ellipse cx="417.34" cy="138.84" rx="0.9" ry="0.7"/>
<ellipse cx="417.53" cy="133.67" rx="0.9" ry="0.7"/>
<ellipse cx="417.63" cy="147.93" rx="0.9" ry="0.7"/>
<ellipse cx="417.17" cy="146.88" rx="0.9" ry="0.7"/>
<ellipse cx="417.13" cy="147.69" rx="0.9" ry="0.7"/>
<ellipse cx="417.62" cy="138.4" rx="0.9" ry="0.7"/>
<ellipse cx="417.64" cy="143.41" rx="0.9" ry="0.7"/>
<ellipse cx="417.34" cy="136" rx="0.9" ry="0.7"/>
<ellipse cx="417.08" cy="144.33" rx="0.9" ry="0.7"/>
<ellipse cx="417.61" cy="142.81" rx="0.9" ry="0.7"/>
<ellipse cx="417.28" cy="139.95" rx="0.9" ry="0.7"/>
<ellipse cx="417.59" cy="133" rx="0.9" ry="0.7"/>
<ellipse cx="417.42" cy="159.1" rx="0.9" ry="0.7"/>
<ellipse cx="417.54" cy="141.3" rx="0.9" ry="0.7"/>
</g>
<circle cx="417.35" cy="112.7" r="1.2" fill="#1f77b4"/>
<circle cx="417.35" cy="168.7" r="1.2" fill="#1f77b4"/>
<g stroke="#ff7f0e" stroke-width="0.85" fill="none">
<path stroke-width="0.75" d="M425.95 87.4V108.5M425.95 144.4V162.2"/>
<path d="M424.15 87.4h3.6M424.15 162.2h3.6"/>
<rect x="422.6" y="108.5" width="6.7" height="35.9"/>
<path d="M422.6 140.3h6.7"/>
</g>
<g fill="#ff7f0e" fill-opacity="0.85">
<ellipse cx="426.05" cy="136.71" rx="0.9" ry="0.7"/>
<ellipse cx="425.92" cy="123.02" rx="0.9" ry="0.7"/>
<ellipse cx="425.91" cy="159.16" rx="0.9" ry="0.7"/>
<ellipse cx="425.66" cy="116.33" rx="0.9" ry="0.7"/>
<ellipse cx="426.02" cy="127.09" rx="0.9" ry="0.7"/>
<ellipse cx="425.94" cy="112.92" rx="0.9" ry="0.7"/>
<ellipse cx="425.79" cy="134.52" rx="0.9" ry="0.7"/>
<ellipse cx="426.11" cy="145.13" rx="0.9" ry="0.7"/>
<ellipse cx="426.12" cy="103.38" rx="0.9" ry="0.7"/>
<ellipse cx="425.92" cy="138.59" rx="0.9" ry="0.7"/>
<ellipse cx="425.76" cy="130.02" rx="0.9" ry="0.7"/>
<ellipse cx="425.93" cy="100.63" rx="0.9" ry="0.7"/>
<ellipse cx="425.71" cy="123.58" rx="0.9" ry="0.7"/>
<ellipse cx="425.73" cy="96.38" rx="0.9" ry="0.7"/>
<ellipse cx="425.91" cy="87.4" rx="0.9" ry="0.7"/>
<ellipse cx="425.71" cy="162.2" rx="0.9" ry="0.7"/>
<ellipse cx="425.92" cy="140.3" rx="0.9" ry="0.7"/>
</g>
<g stroke="#2ca02c" stroke-width="0.85" fill="none">
<path stroke-width="0.75" d="M434.65 99.1V123.5M434.65 151.3V169.5"/>
<path d="M432.85 99.1h3.6M432.85 169.5h3.6"/>
<rect x="431.3" y="123.5" width="6.7" height="27.8"/>
<path d="M431.3 135.2h6.7"/>
</g>
<g fill="#2ca02c" fill-opacity="0.85">
<ellipse cx="434.89" cy="124.63" rx="0.9" ry="0.7"/>
<ellipse cx="434.51" cy="101.11" rx="0.9" ry="0.7"/>
<ellipse cx="434.84" cy="118.07" rx="0.9" ry="0.7"/>
<ellipse cx="434.44" cy="125.01" rx="0.9" ry="0.7"/>
<ellipse cx="434.65" cy="134" rx="0.9" ry="0.7"/>
<ellipse cx="434.9" cy="153.78" rx="0.9" ry="0.7"/>
<ellipse cx="434.47" cy="169.43" rx="0.9" ry="0.7"/>
<ellipse cx="434.51" cy="118.99" rx="0.9" ry="0.7"/>
<ellipse cx="434.65" cy="150.79" rx="0.9" ry="0.7"/>
<ellipse cx="434.54" cy="150.09" rx="0.9" ry="0.7"/>
<ellipse cx="434.37" cy="154.31" rx="0.9" ry="0.7"/>
<ellipse cx="434.46" cy="168.24" rx="0.9" ry="0.7"/>
<ellipse cx="434.45" cy="133.25" rx="0.9" ry="0.7"/>
<ellipse cx="434.91" cy="102.97" rx="0.9" ry="0.7"/>
<ellipse cx="434.76" cy="99.1" rx="0.9" ry="0.7"/>
<ellipse cx="434.89" cy="169.5" rx="0.9" ry="0.7"/>
<ellipse cx="434.45" cy="135.2" rx="0.9" ry="0.7"/>
</g>
<g stroke="#d62728" stroke-width="0.85" fill="none">
<path stroke-width="0.75" d="M443.35 71.9V93.5M443.35 190.3V273.3"/>
<path d="M441.55 71.9h3.6M441.55 273.3h3.6"/>
<rect x="440" y="93.5" width="6.7" height="96.8"/>
<path d="M440 132.5h6.7"/>
</g>
<g fill="#d62728" fill-opacity="0.85">
<ellipse cx="443.45" cy="199.85" rx="0.9" ry="0.7"/>
<ellipse cx="443.24" cy="155.1" rx="0.9" ry="0.7"/>
<ellipse cx="443.05" cy="178" rx="0.9" ry="0.7"/>
<ellipse cx="443.07" cy="84.43" rx="0.9" ry="0.7"/>
<ellipse cx="443.14" cy="198.98" rx="0.9" ry="0.7"/>
<ellipse cx="443.42" cy="242.57" rx="0.9" ry="0.7"/>
<ellipse cx="443.31" cy="170.71" rx="0.9" ry="0.7"/>
<ellipse cx="443.36" cy="189.38" rx="0.9" ry="0.7"/>
<ellipse cx="443.59" cy="79.68" rx="0.9" ry="0.7"/>
<ellipse cx="443.13" cy="81.45" rx="0.9" ry="0.7"/>
<ellipse cx="443.19" cy="165.48" rx="0.9" ry="0.7"/>
<ellipse cx="443.44" cy="172.86" rx="0.9" ry="0.7"/>
<ellipse cx="443.06" cy="155.38" rx="0.9" ry="0.7"/>
<ellipse cx="443.05" cy="238.93" rx="0.9" ry="0.7"/>
<ellipse cx="443.26" cy="71.9" rx="0.9" ry="0.7"/>
<ellipse cx="443.11" cy="273.3" rx="0.9" ry="0.7"/>
<ellipse cx="443.26" cy="132.5" rx="0.9" ry="0.7"/>
</g>
<g stroke="#1f77b4" stroke-width="0.85" fill="none">
<path d="M483.47 143.7h6.7"/>
</g>
<g fill="#1f77b4" fill-opacity="0.85">
<ellipse cx="486.76" cy="143.7" rx="0.9" ry="0.7"/>
<ellipse cx="486.66" cy="143.7" rx="0.9" ry="0.7"/>
<ellipse cx="486.56" cy="143.7" rx="0.9" ry="0.7"/>
<ellipse cx="486.99" cy="143.7" rx="0.9" ry="0.7"/>
<ellipse cx="486.53" cy="143.7" rx="0.9" ry="0.7"/>
<ellipse cx="486.85" cy="143.7" rx="0.9" ry="0.7"/>
<ellipse cx="487.08" cy="143.7" rx="0.9" ry="0.7"/>
<ellipse cx="486.61" cy="143.7" rx="0.9" ry="0.7"/>
<ellipse cx="486.64" cy="143.7" rx="0.9" ry="0.7"/>
<ellipse cx="486.88" cy="143.7" rx="0.9" ry="0.7"/>
<ellipse cx="486.82" cy="143.7" rx="0.9" ry="0.7"/>
<ellipse cx="486.9" cy="143.7" rx="0.9" ry="0.7"/>
<ellipse cx="487.01" cy="143.7" rx="0.9" ry="0.7"/>
<ellipse cx="486.62" cy="143.7" rx="0.9" ry="0.7"/>
<ellipse cx="486.71" cy="143.7" rx="0.9" ry="0.7"/>
<ellipse cx="486.7" cy="143.7" rx="0.9" ry="0.7"/>
<ellipse cx="486.55" cy="143.7" rx="0.9" ry="0.7"/>
</g>
<g stroke="#ff7f0e" stroke-width="0.85" fill="none">
<path stroke-width="0.75" d="M495.42 89.5V111.5M495.42 147.6V160.5"/>
<path d="M493.62 89.5h3.6M493.62 160.5h3.6"/>
<rect x="492.07" y="111.5" width="6.7" height="36.1"/>
<path d="M492.07 143.5h6.7"/>
</g>
<g fill="#ff7f0e" fill-opacity="0.85">
<ellipse cx="495.13" cy="157.7" rx="0.9" ry="0.7"/>
<ellipse cx="495.28" cy="89.64" rx="0.9" ry="0.7"/>
<ellipse cx="495.26" cy="157.21" rx="0.9" ry="0.7"/>
<ellipse cx="495.57" cy="138.28" rx="0.9" ry="0.7"/>
<ellipse cx="495.69" cy="119.66" rx="0.9" ry="0.7"/>
<ellipse cx="495.57" cy="119.89" rx="0.9" ry="0.7"/>
<ellipse cx="495.32" cy="123.61" rx="0.9" ry="0.7"/>
<ellipse cx="495.65" cy="104.79" rx="0.9" ry="0.7"/>
<ellipse cx="495.32" cy="156.78" rx="0.9" ry="0.7"/>
<ellipse cx="495.26" cy="131.49" rx="0.9" ry="0.7"/>
<ellipse cx="495.66" cy="139.96" rx="0.9" ry="0.7"/>
<ellipse cx="495.5" cy="121.08" rx="0.9" ry="0.7"/>
<ellipse cx="495.54" cy="110.73" rx="0.9" ry="0.7"/>
<ellipse cx="495.52" cy="143.27" rx="0.9" ry="0.7"/>
<ellipse cx="495.71" cy="89.5" rx="0.9" ry="0.7"/>
<ellipse cx="495.4" cy="160.5" rx="0.9" ry="0.7"/>
<ellipse cx="495.62" cy="143.5" rx="0.9" ry="0.7"/>
</g>
<g stroke="#2ca02c" stroke-width="0.85" fill="none">
<path stroke-width="0.75" d="M504.12 89.5V111.5M504.12 147.6V160.5"/>
<path d="M502.32 89.5h3.6M502.32 160.5h3.6"/>
<rect x="500.77" y="111.5" width="6.7" height="36.1"/>
<path d="M500.77 143.5h6.7"/>
</g>
<g fill="#2ca02c" fill-opacity="0.85">
<ellipse cx="503.86" cy="108.37" rx="0.9" ry="0.7"/>
<ellipse cx="504.34" cy="137.66" rx="0.9" ry="0.7"/>
<ellipse cx="504.37" cy="96.27" rx="0.9" ry="0.7"/>
<ellipse cx="504.39" cy="133.98" rx="0.9" ry="0.7"/>
<ellipse cx="503.88" cy="144.38" rx="0.9" ry="0.7"/>
<ellipse cx="503.94" cy="112.47" rx="0.9" ry="0.7"/>
<ellipse cx="503.89" cy="145.04" rx="0.9" ry="0.7"/>
<ellipse cx="503.84" cy="116.62" rx="0.9" ry="0.7"/>
<ellipse cx="504.33" cy="113" rx="0.9" ry="0.7"/>
<ellipse cx="504.31" cy="103.45" rx="0.9" ry="0.7"/>
<ellipse cx="504.2" cy="105.71" rx="0.9" ry="0.7"/>
<ellipse cx="504.32" cy="132.82" rx="0.9" ry="0.7"/>
<ellipse cx="504.2" cy="141.01" rx="0.9" ry="0.7"/>
<ellipse cx="503.99" cy="159.1" rx="0.9" ry="0.7"/>
<ellipse cx="503.88" cy="89.5" rx="0.9" ry="0.7"/>
<ellipse cx="503.88" cy="160.5" rx="0.9" ry="0.7"/>
<ellipse cx="504.27" cy="143.5" rx="0.9" ry="0.7"/>
</g>
<g stroke="#d62728" stroke-width="0.85" fill="none">
<path stroke-width="0.75" d="M512.82 58.4V74.1M512.82 103.7V115.8"/>
<path d="M511.02 58.4h3.6M511.02 115.8h3.6"/>
<rect x="509.47" y="74.1" width="6.7" height="29.6"/>
<path d="M509.47 100.6h6.7"/>
</g>
<g fill="#d62728" fill-opacity="0.85">
<ellipse cx="513.11" cy="83.55" rx="0.9" ry="0.7"/>
<ellipse cx="512.52" cy="74.72" rx="0.9" ry="0.7"/>
<ellipse cx="512.81" cy="82.46" rx="0.9" ry="0.7"/>
<ellipse cx="512.81" cy="64.18" rx="0.9" ry="0.7"/>
<ellipse cx="513" cy="102.63" rx="0.9" ry="0.7"/>
<ellipse cx="512.63" cy="99.3" rx="0.9" ry="0.7"/>
<ellipse cx="512.82" cy="58.89" rx="0.9" ry="0.7"/>
<ellipse cx="512.73" cy="87.02" rx="0.9" ry="0.7"/>
<ellipse cx="513.02" cy="63.84" rx="0.9" ry="0.7"/>
<ellipse cx="512.68" cy="66.84" rx="0.9" ry="0.7"/>
<ellipse cx="513.09" cy="99.62" rx="0.9" ry="0.7"/>
<ellipse cx="512.69" cy="98.37" rx="0.9" ry="0.7"/>
<ellipse cx="512.65" cy="74.14" rx="0.9" ry="0.7"/>
<ellipse cx="512.94" cy="96.66" rx="0.9" ry="0.7"/>
<ellipse cx="512.82" cy="58.4" rx="0.9" ry="0.7"/>
<ellipse cx="512.59" cy="115.8" rx="0.9" ry="0.7"/>
<ellipse cx="512.9" cy="100.6" rx="0.9" ry="0.7"/>
</g>
<g stroke="#1f77b4" stroke-width="0.85" fill="none">
<path stroke-width="0.75" d="M556.29 119.7V131.2M556.29 150.4V178.7"/>
<path d="M554.49 119.7h3.6M554.49 178.7h3.6"/>
<rect x="552.94" y="131.2" width="6.7" height="19.2"/>
<path d="M552.94 145.6h6.7"/>
</g>
<g fill="#1f77b4" fill-opacity="0.85">
<ellipse cx="556.39" cy="146.33" rx="0.9" ry="0.7"/>
<ellipse cx="556.44" cy="128.75" rx="0.9" ry="0.7"/>
<ellipse cx="556.09" cy="123.79" rx="0.9" ry="0.7"/>
<ellipse cx="556.25" cy="138.78" rx="0.9" ry="0.7"/>
<ellipse cx="556.45" cy="152.84" rx="0.9" ry="0.7"/>
<ellipse cx="556.34" cy="151.11" rx="0.9" ry="0.7"/>
<ellipse cx="556.07" cy="136.25" rx="0.9" ry="0.7"/>
<ellipse cx="556.27" cy="164.58" rx="0.9" ry="0.7"/>
<ellipse cx="556.52" cy="148.17" rx="0.9" ry="0.7"/>
<ellipse cx="556.13" cy="140.05" rx="0.9" ry="0.7"/>
<ellipse cx="556.1" cy="145.69" rx="0.9" ry="0.7"/>
<ellipse cx="556.17" cy="127.13" rx="0.9" ry="0.7"/>
<ellipse cx="556.41" cy="137.47" rx="0.9" ry="0.7"/>
<ellipse cx="556.5" cy="147.39" rx="0.9" ry="0.7"/>
<ellipse cx="556.08" cy="119.7" rx="0.9" ry="0.7"/>
<ellipse cx="556.08" cy="178.7" rx="0.9" ry="0.7"/>
<ellipse cx="556.14" cy="145.6" rx="0.9" ry="0.7"/>
</g>
<g stroke="#ff7f0e" stroke-width="0.85" fill="none">
<path stroke-width="0.75" d="M564.89 84.2V106.6M564.89 152.5V160.3"/>
<path d="M563.09 84.2h3.6M563.09 160.3h3.6"/>
<rect x="561.54" y="106.6" width="6.7" height="45.9"/>
<path d="M561.54 142.1h6.7"/>
</g>
<g fill="#ff7f0e" fill-opacity="0.85">
<ellipse cx="564.95" cy="130.57" rx="0.9" ry="0.7"/>
<ellipse cx="564.83" cy="121.66" rx="0.9" ry="0.7"/>
<ellipse cx="565.03" cy="151.36" rx="0.9" ry="0.7"/>
<ellipse cx="565.13" cy="86.48" rx="0.9" ry="0.7"/>
<ellipse cx="564.85" cy="153.29" rx="0.9" ry="0.7"/>
<ellipse cx="564.93" cy="151.76" rx="0.9" ry="0.7"/>
<ellipse cx="565.04" cy="158.22" rx="0.9" ry="0.7"/>
<ellipse cx="564.84" cy="115.61" rx="0.9" ry="0.7"/>
<ellipse cx="564.73" cy="86.59" rx="0.9" ry="0.7"/>
<ellipse cx="565.02" cy="124.42" rx="0.9" ry="0.7"/>
<ellipse cx="565.12" cy="124.92" rx="0.9" ry="0.7"/>
<ellipse cx="565.05" cy="157.91" rx="0.9" ry="0.7"/>
<ellipse cx="565.01" cy="135.63" rx="0.9" ry="0.7"/>
<ellipse cx="565.1" cy="113.11" rx="0.9" ry="0.7"/>
<ellipse cx="565" cy="84.2" rx="0.9" ry="0.7"/>
<ellipse cx="564.97" cy="160.3" rx="0.9" ry="0.7"/>
<ellipse cx="564.86" cy="142.1" rx="0.9" ry="0.7"/>
</g>
<g stroke="#2ca02c" stroke-width="0.85" fill="none">
<path stroke-width="0.75" d="M573.59 121.2V130.2M573.59 150.4V178.7"/>
<path d="M571.79 121.2h3.6M571.79 178.7h3.6"/>
<rect x="570.24" y="130.2" width="6.7" height="20.2"/>
<path d="M570.24 147.7h6.7"/>
</g>
<g fill="#2ca02c" fill-opacity="0.85">
<ellipse cx="573.61" cy="142.89" rx="0.9" ry="0.7"/>
<ellipse cx="573.72" cy="138.68" rx="0.9" ry="0.7"/>
<ellipse cx="573.6" cy="170.58" rx="0.9" ry="0.7"/>
<ellipse cx="573.67" cy="123.45" rx="0.9" ry="0.7"/>
<ellipse cx="573.79" cy="139.39" rx="0.9" ry="0.7"/>
<ellipse cx="573.6" cy="124.88" rx="0.9" ry="0.7"/>
<ellipse cx="573.54" cy="129.57" rx="0.9" ry="0.7"/>
<ellipse cx="573.86" cy="143.42" rx="0.9" ry="0.7"/>
<ellipse cx="573.42" cy="124.7" rx="0.9" ry="0.7"/>
<ellipse cx="573.7" cy="149.89" rx="0.9" ry="0.7"/>
<ellipse cx="573.53" cy="141.18" rx="0.9" ry="0.7"/>
<ellipse cx="573.75" cy="145.99" rx="0.9" ry="0.7"/>
<ellipse cx="573.36" cy="165.09" rx="0.9" ry="0.7"/>
<ellipse cx="573.88" cy="141.81" rx="0.9" ry="0.7"/>
<ellipse cx="573.5" cy="121.2" rx="0.9" ry="0.7"/>
<ellipse cx="573.32" cy="178.7" rx="0.9" ry="0.7"/>
<ellipse cx="573.45" cy="147.7" rx="0.9" ry="0.7"/>
</g>
<g stroke="#d62728" stroke-width="0.85" fill="none">
<path stroke-width="0.75" d="M582.29 106.6V117M582.29 146.7V167.6"/>
<path d="M580.49 106.6h3.6M580.49 167.6h3.6"/>
<rect x="578.94" y="117" width="6.7" height="29.7"/>
<path d="M578.94 131.2h6.7"/>
</g>
<g fill="#d62728" fill-opacity="0.85">
<ellipse cx="582.17" cy="117.4" rx="0.9" ry="0.7"/>
<ellipse cx="582.32" cy="129.49" rx="0.9" ry="0.7"/>
<ellipse cx="582.07" cy="110.26" rx="0.9" ry="0.7"/>
<ellipse cx="582.49" cy="123.67" rx="0.9" ry="0.7"/>
<ellipse cx="582.2" cy="116.38" rx="0.9" ry="0.7"/>
<ellipse cx="582.5" cy="123.5" rx="0.9" ry="0.7"/>
<ellipse cx="582.15" cy="154.89" rx="0.9" ry="0.7"/>
<ellipse cx="582.22" cy="120.84" rx="0.9" ry="0.7"/>
<ellipse cx="582.14" cy="115.02" rx="0.9" ry="0.7"/>
<ellipse cx="582.25" cy="111.48" rx="0.9" ry="0.7"/>
<ellipse cx="582.1" cy="108.95" rx="0.9" ry="0.7"/>
<ellipse cx="581.99" cy="154.08" rx="0.9" ry="0.7"/>
<ellipse cx="582.42" cy="115.11" rx="0.9" ry="0.7"/>
<ellipse cx="582.16" cy="156.48" rx="0.9" ry="0.7"/>
<ellipse cx="582.14" cy="106.6" rx="0.9" ry="0.7"/>
<ellipse cx="582.17" cy="167.6" rx="0.9" ry="0.7"/>
<ellipse cx="582.28" cy="131.2" rx="0.9" ry="0.7"/>
</g>
<rect x="605.6" y="102.4" width="77.8" height="57.7" rx="2" fill="#fff" stroke="#e2e2e2" stroke-width="1"/>
<line x1="608.1" y1="110.1" x2="629.4" y2="110.1" stroke="#1f77b4" stroke-width="2"/>
<text class="t" x="636.6" y="113.7">AUC</text>
<line x1="608.1" y1="123.9" x2="629.4" y2="123.9" stroke="#ff7f0e" stroke-width="2"/>
<text class="t" x="636.6" y="127.5">AUPR</text>
<line x1="608.1" y1="137.7" x2="629.4" y2="137.7" stroke="#2ca02c" stroke-width="2"/>
<text class="t" x="636.6" y="141.3">Accuracy</text>
<line x1="608.1" y1="151.5" x2="629.4" y2="151.5" stroke="#d62728" stroke-width="2"/>
<text class="t" x="636.6" y="155.1">F1 Score</text>
<text class="L" x="0.5" y="146">a</text>
<rect x="59.4" y="342.4" width="534.4" height="295.9" fill="none" stroke="#c8c8c8" stroke-width="1"/>
<line x1="56.8" y1="625.2" x2="59.4" y2="625.2" stroke="#8a8a8a" stroke-width="0.9"/>
<text x="55.1" y="629.1" class="t" text-anchor="end">0.0</text>
<line x1="56.8" y1="571.18" x2="59.4" y2="571.18" stroke="#8a8a8a" stroke-width="0.9"/>
<text x="55.1" y="575.08" class="t" text-anchor="end">0.2</text>
<line x1="56.8" y1="517.16" x2="59.4" y2="517.16" stroke="#8a8a8a" stroke-width="0.9"/>
<text x="55.1" y="521.06" class="t" text-anchor="end">0.4</text>
<line x1="56.8" y1="463.14" x2="59.4" y2="463.14" stroke="#8a8a8a" stroke-width="0.9"/>
<text x="55.1" y="467.04" class="t" text-anchor="end">0.6</text>
<line x1="56.8" y1="409.12" x2="59.4" y2="409.12" stroke="#8a8a8a" stroke-width="0.9"/>
<text x="55.1" y="413.02" class="t" text-anchor="end">0.8</text>
<line x1="56.8" y1="355.1" x2="59.4" y2="355.1" stroke="#8a8a8a" stroke-width="0.9"/>
<text x="55.1" y="359" class="t" text-anchor="end">1.0</text>
<line x1="84.5" y1="638.3" x2="84.5" y2="640.7" stroke="#8a8a8a" stroke-width="0.9"/>
<text class="t" text-anchor="middle" transform="translate(84.5 651.22) rotate(-18.7)" y="3.5">scXDR</text>
<line x1="146" y1="638.3" x2="146" y2="640.7" stroke="#8a8a8a" stroke-width="0.9"/>
<text class="t" text-anchor="middle" transform="translate(146 652.03) rotate(-18.7)" y="3.5">scDEAL</text>
<line x1="207.5" y1="638.3" x2="207.5" y2="640.7" stroke="#8a8a8a" stroke-width="0.9"/>
<text class="t" text-anchor="middle" transform="translate(207.5 650.69) rotate(-18.7)" y="3.5">SCAD</text>
<line x1="269" y1="638.3" x2="269" y2="640.7" stroke="#8a8a8a" stroke-width="0.9"/>
<text class="t" text-anchor="middle" transform="translate(269 649.35) rotate(-18.7)" y="3.5">scVI</text>
<line x1="330.5" y1="638.3" x2="330.5" y2="640.7" stroke="#8a8a8a" stroke-width="0.9"/>
<text class="t" text-anchor="middle" transform="translate(330.5 652.03) rotate(-18.7)" y="3.5">ComBat</text>
<line x1="392" y1="638.3" x2="392" y2="640.7" stroke="#8a8a8a" stroke-width="0.9"/>
<text class="t" text-anchor="middle" transform="translate(392 656.12) rotate(-18.7)" y="3.5">CaDRReS-Sc</text>
<line x1="453.5" y1="638.3" x2="453.5" y2="640.7" stroke="#8a8a8a" stroke-width="0.9"/>
<text class="t" text-anchor="middle" transform="translate(453.5 649.53) rotate(-18.7)" y="3.5">MLP</text>
<line x1="515" y1="638.3" x2="515" y2="640.7" stroke="#8a8a8a" stroke-width="0.9"/>
<text class="t" text-anchor="middle" transform="translate(515 649.71) rotate(-18.7)" y="3.5">SVM</text>
<line x1="576.5" y1="638.3" x2="576.5" y2="640.7" stroke="#8a8a8a" stroke-width="0.9"/>
<text class="t" text-anchor="middle" transform="translate(576.5 652.21) rotate(-18.7)" y="3.5">Pearson</text>
<g stroke="#1f77b4" stroke-width="0.8" fill="none">
<path stroke-width="0.75" d="M68.8 357.5V386.4M68.8 418.4V459.3"/>
<path d="M67.2 357.5h3.2M67.2 459.3h3.2"/>
<rect x="65.85" y="386.4" width="5.9" height="32"/>
<path d="M65.85 394.2h5.9"/>
</g>
<g fill="#1f77b4" fill-opacity="0.85">
<ellipse cx="68.87" cy="406.79" rx="0.9" ry="0.7"/>
<ellipse cx="68.97" cy="367.97" rx="0.9" ry="0.7"/>
<ellipse cx="68.9" cy="453.35" rx="0.9" ry="0.7"/>
<ellipse cx="69.04" cy="412.89" rx="0.9" ry="0.7"/>
<ellipse cx="68.97" cy="450.47" rx="0.9" ry="0.7"/>
<ellipse cx="69" cy="413" rx="0.9" ry="0.7"/>
<ellipse cx="68.62" cy="357.93" rx="0.9" ry="0.7"/>
<ellipse cx="68.92" cy="416.86" rx="0.9" ry="0.7"/>
<ellipse cx="68.82" cy="364.73" rx="0.9" ry="0.7"/>
<ellipse cx="68.95" cy="390.97" rx="0.9" ry="0.7"/>
<ellipse cx="68.76" cy="411.24" rx="0.9" ry="0.7"/>
<ellipse cx="69.03" cy="391.29" rx="0.9" ry="0.7"/>
<ellipse cx="68.83" cy="450.78" rx="0.9" ry="0.7"/>
<ellipse cx="68.66" cy="414.92" rx="0.9" ry="0.7"/>
<ellipse cx="68.64" cy="357.5" rx="0.9" ry="0.7"/>
<ellipse cx="68.58" cy="459.3" rx="0.9" ry="0.7"/>
<ellipse cx="68.8" cy="394.2" rx="0.9" ry="0.7"/>
</g>
<g stroke="#ff7f0e" stroke-width="0.8" fill="none">
<path stroke-width="0.75" d="M76.5 356.6V374.5M76.5 406.4V453.5"/>
<path d="M74.9 356.6h3.2M74.9 453.5h3.2"/>
<rect x="73.55" y="374.5" width="5.9" height="31.9"/>
<path d="M73.55 384.4h5.9"/>
</g>
<g fill="#ff7f0e" fill-opacity="0.85">
<ellipse cx="76.22" cy="389.4" rx="0.9" ry="0.7"/>
<ellipse cx="76.63" cy="390.17" rx="0.9" ry="0.7"/>
<ellipse cx="76.58" cy="391.71" rx="0.9" ry="0.7"/>
<ellipse cx="76.4" cy="406.71" rx="0.9" ry="0.7"/>
<ellipse cx="76.72" cy="428.44" rx="0.9" ry="0.7"/>
<ellipse cx="76.42" cy="368.51" rx="0.9" ry="0.7"/>
<ellipse cx="76.48" cy="424.06" rx="0.9" ry="0.7"/>
<ellipse cx="76.52" cy="405.14" rx="0.9" ry="0.7"/>
<ellipse cx="76.66" cy="394.82" rx="0.9" ry="0.7"/>
<ellipse cx="76.33" cy="357.11" rx="0.9" ry="0.7"/>
<ellipse cx="76.46" cy="368.82" rx="0.9" ry="0.7"/>
<ellipse cx="76.45" cy="421.96" rx="0.9" ry="0.7"/>
<ellipse cx="76.53" cy="430.45" rx="0.9" ry="0.7"/>
<ellipse cx="76.7" cy="403.13" rx="0.9" ry="0.7"/>
<ellipse cx="76.38" cy="356.6" rx="0.9" ry="0.7"/>
<ellipse cx="76.7" cy="453.5" rx="0.9" ry="0.7"/>
<ellipse cx="76.44" cy="384.4" rx="0.9" ry="0.7"/>
</g>
<g stroke="#2ca02c" stroke-width="0.8" fill="none">
<path stroke-width="0.75" d="M84.2 368.4V396.6M84.2 422.5V450.7"/>
<path d="M82.6 368.4h3.2M82.6 450.7h3.2"/>
<rect x="81.25" y="396.6" width="5.9" height="25.9"/>
<path d="M81.25 412.3h5.9"/>
</g>
<g fill="#2ca02c" fill-opacity="0.85">
<ellipse cx="84.32" cy="403.64" rx="0.9" ry="0.7"/>
<ellipse cx="84.26" cy="421.85" rx="0.9" ry="0.7"/>
<ellipse cx="84.31" cy="390.73" rx="0.9" ry="0.7"/>
<ellipse cx="84.03" cy="404.81" rx="0.9" ry="0.7"/>
<ellipse cx="84.3" cy="411.79" rx="0.9" ry="0.7"/>
<ellipse cx="84.17" cy="390.51" rx="0.9" ry="0.7"/>
<ellipse cx="84.36" cy="415.32" rx="0.9" ry="0.7"/>
<ellipse cx="83.96" cy="437.88" rx="0.9" ry="0.7"/>
<ellipse cx="84.01" cy="404.38" rx="0.9" ry="0.7"/>
<ellipse cx="83.92" cy="401.52" rx="0.9" ry="0.7"/>
<ellipse cx="84.36" cy="439.66" rx="0.9" ry="0.7"/>
<ellipse cx="84.45" cy="390.65" rx="0.9" ry="0.7"/>
<ellipse cx="84.29" cy="439.75" rx="0.9" ry="0.7"/>
<ellipse cx="84.12" cy="386.08" rx="0.9" ry="0.7"/>
<ellipse cx="84.39" cy="368.4" rx="0.9" ry="0.7"/>
<ellipse cx="84.37" cy="450.7" rx="0.9" ry="0.7"/>
<ellipse cx="84.24" cy="412.3" rx="0.9" ry="0.7"/>
</g>
<g stroke="#d62728" stroke-width="0.8" fill="none">
<path stroke-width="0.75" d="M91.9 367.4V389.4M91.9 429.3V467.3"/>
<path d="M90.3 367.4h3.2M90.3 467.3h3.2"/>
<rect x="88.95" y="389.4" width="5.9" height="39.9"/>
<path d="M88.95 408.2h5.9"/>
</g>
<g fill="#d62728" fill-opacity="0.85">
<ellipse cx="92.01" cy="401.45" rx="0.9" ry="0.7"/>
<ellipse cx="91.67" cy="402.11" rx="0.9" ry="0.7"/>
<ellipse cx="92.18" cy="415.01" rx="0.9" ry="0.7"/>
<ellipse cx="91.65" cy="431.38" rx="0.9" ry="0.7"/>
<ellipse cx="92.12" cy="368.27" rx="0.9" ry="0.7"/>
<ellipse cx="91.68" cy="421.73" rx="0.9" ry="0.7"/>
<ellipse cx="91.61" cy="387.61" rx="0.9" ry="0.7"/>
<ellipse cx="92.03" cy="389.96" rx="0.9" ry="0.7"/>
<ellipse cx="91.75" cy="413.02" rx="0.9" ry="0.7"/>
<ellipse cx="92.04" cy="466.57" rx="0.9" ry="0.7"/>
<ellipse cx="91.71" cy="405.86" rx="0.9" ry="0.7"/>
<ellipse cx="91.63" cy="415.12" rx="0.9" ry="0.7"/>
<ellipse cx="92.06" cy="395.46" rx="0.9" ry="0.7"/>
<ellipse cx="92.03" cy="389.59" rx="0.9" ry="0.7"/>
<ellipse cx="92.11" cy="367.4" rx="0.9" ry="0.7"/>
<ellipse cx="92.04" cy="467.3" rx="0.9" ry="0.7"/>
<ellipse cx="91.65" cy="408.2" rx="0.9" ry="0.7"/>
</g>
<g stroke="#1f77b4" stroke-width="0.8" fill="none">
<path stroke-width="0.75" d="M130.3 356.1V443.2M130.3 570.3V624.2"/>
<path d="M128.7 356.1h3.2M128.7 624.2h3.2"/>
<rect x="127.35" y="443.2" width="5.9" height="127.1"/>
<path d="M127.35 486.7h5.9"/>
</g>
<g fill="#1f77b4" fill-opacity="0.85">
<ellipse cx="130.23" cy="417.87" rx="0.9" ry="0.7"/>
<ellipse cx="130.47" cy="561.7" rx="0.9" ry="0.7"/>
<ellipse cx="130.57" cy="565.76" rx="0.9" ry="0.7"/>
<ellipse cx="130.47" cy="357.09" rx="0.9" ry="0.7"/>
<ellipse cx="130.34" cy="525.9" rx="0.9" ry="0.7"/>
<ellipse cx="130.18" cy="574.59" rx="0.9" ry="0.7"/>
<ellipse cx="130.04" cy="535.91" rx="0.9" ry="0.7"/>
<ellipse cx="130.58" cy="552.63" rx="0.9" ry="0.7"/>
<ellipse cx="130.42" cy="450.8" rx="0.9" ry="0.7"/>
<ellipse cx="130.5" cy="516.28" rx="0.9" ry="0.7"/>
<ellipse cx="130.2" cy="529.23" rx="0.9" ry="0.7"/>
<ellipse cx="130.36" cy="544.54" rx="0.9" ry="0.7"/>
<ellipse cx="130.59" cy="525.17" rx="0.9" ry="0.7"/>
<ellipse cx="130.5" cy="392.5" rx="0.9" ry="0.7"/>
<ellipse cx="130.36" cy="356.1" rx="0.9" ry="0.7"/>
<ellipse cx="130.19" cy="624.2" rx="0.9" ry="0.7"/>
<ellipse cx="130.26" cy="486.7" rx="0.9" ry="0.7"/>
</g>
<g stroke="#ff7f0e" stroke-width="0.8" fill="none">
<path stroke-width="0.75" d="M138 356.1V424.4M138 525.9V542.1"/>
<path d="M136.4 356.1h3.2M136.4 542.1h3.2"/>
<rect x="135.05" y="424.4" width="5.9" height="101.5"/>
<path d="M135.05 471.4h5.9"/>
</g>
<g fill="#ff7f0e" fill-opacity="0.85">
<ellipse cx="138.15" cy="532" rx="0.9" ry="0.7"/>
<ellipse cx="138.26" cy="397.2" rx="0.9" ry="0.7"/>
<ellipse cx="137.84" cy="538.98" rx="0.9" ry="0.7"/>
<ellipse cx="138.06" cy="424.57" rx="0.9" ry="0.7"/>
<ellipse cx="138.11" cy="467.28" rx="0.9" ry="0.7"/>
<ellipse cx="137.98" cy="411.83" rx="0.9" ry="0.7"/>
<ellipse cx="137.82" cy="526.59" rx="0.9" ry="0.7"/>
<ellipse cx="137.85" cy="539.05" rx="0.9" ry="0.7"/>
<ellipse cx="138.15" cy="535.16" rx="0.9" ry="0.7"/>
<ellipse cx="138.17" cy="510.8" rx="0.9" ry="0.7"/>
<ellipse cx="137.98" cy="536.99" rx="0.9" ry="0.7"/>
<ellipse cx="137.75" cy="531.52" rx="0.9" ry="0.7"/>
<ellipse cx="138.18" cy="480.6" rx="0.9" ry="0.7"/>
<ellipse cx="138.16" cy="529.15" rx="0.9" ry="0.7"/>
<ellipse cx="137.84" cy="356.1" rx="0.9" ry="0.7"/>
<ellipse cx="138.05" cy="542.1" rx="0.9" ry="0.7"/>
<ellipse cx="138.24" cy="471.4" rx="0.9" ry="0.7"/>
</g>
<g stroke="#2ca02c" stroke-width="0.8" fill="none">
<path stroke-width="0.75" d="M145.7 361.7V433.4M145.7 493.9V527.8"/>
<path d="M144.1 361.7h3.2M144.1 527.8h3.2"/>
<rect x="142.75" y="433.4" width="5.9" height="60.5"/>
<path d="M142.75 489.1h5.9"/>
</g>
<g fill="#2ca02c" fill-opacity="0.85">
<ellipse cx="145.74" cy="511.59" rx="0.9" ry="0.7"/>
<ellipse cx="145.56" cy="469.05" rx="0.9" ry="0.7"/>
<ellipse cx="145.87" cy="445.03" rx="0.9" ry="0.7"/>
<ellipse cx="145.66" cy="475.81" rx="0.9" ry="0.7"/>
<ellipse cx="145.97" cy="467.55" rx="0.9" ry="0.7"/>
<ellipse cx="145.86" cy="464.69" rx="0.9" ry="0.7"/>
<ellipse cx="145.89" cy="436.1" rx="0.9" ry="0.7"/>
<ellipse cx="145.98" cy="506.58" rx="0.9" ry="0.7"/>
<ellipse cx="145.55" cy="471.68" rx="0.9" ry="0.7"/>
<ellipse cx="145.42" cy="499.19" rx="0.9" ry="0.7"/>
<ellipse cx="145.52" cy="386.43" rx="0.9" ry="0.7"/>
<ellipse cx="145.51" cy="434.64" rx="0.9" ry="0.7"/>
<ellipse cx="145.45" cy="493.32" rx="0.9" ry="0.7"/>
<ellipse cx="145.43" cy="510.39" rx="0.9" ry="0.7"/>
<ellipse cx="145.73" cy="361.7" rx="0.9" ry="0.7"/>
<ellipse cx="145.92" cy="527.8" rx="0.9" ry="0.7"/>
<ellipse cx="145.67" cy="489.1" rx="0.9" ry="0.7"/>
</g>
<g stroke="#d62728" stroke-width="0.8" fill="none">
<path stroke-width="0.75" d="M153.4 361.7V414M153.4 625V625"/>
<path d="M151.8 361.7h3.2M151.8 625h3.2"/>
<rect x="150.45" y="414" width="5.9" height="211"/>
<path d="M150.45 478.1h5.9"/>
</g>
<g fill="#d62728" fill-opacity="0.85">
<ellipse cx="153.69" cy="625" rx="0.9" ry="0.7"/>
<ellipse cx="153.13" cy="540.19" rx="0.9" ry="0.7"/>
<ellipse cx="153.19" cy="439.3" rx="0.9" ry="0.7"/>
<ellipse cx="153.55" cy="625" rx="0.9" ry="0.7"/>
<ellipse cx="153.66" cy="395.21" rx="0.9" ry="0.7"/>
<ellipse cx="153.51" cy="625" rx="0.9" ry="0.7"/>
<ellipse cx="153.28" cy="508.6" rx="0.9" ry="0.7"/>
<ellipse cx="153.45" cy="617.78" rx="0.9" ry="0.7"/>
<ellipse cx="153.55" cy="625" rx="0.9" ry="0.7"/>
<ellipse cx="153.16" cy="467.99" rx="0.9" ry="0.7"/>
<ellipse cx="153.29" cy="604.48" rx="0.9" ry="0.7"/>
<ellipse cx="153.25" cy="625" rx="0.9" ry="0.7"/>
<ellipse cx="153.17" cy="579.92" rx="0.9" ry="0.7"/>
<ellipse cx="153.39" cy="395.52" rx="0.9" ry="0.7"/>
<ellipse cx="153.2" cy="361.7" rx="0.9" ry="0.7"/>
<ellipse cx="153.24" cy="625" rx="0.9" ry="0.7"/>
<ellipse cx="153.19" cy="478.1" rx="0.9" ry="0.7"/>
</g>
<g stroke="#1f77b4" stroke-width="0.8" fill="none">
<path stroke-width="0.75" d="M191.8 401.3V436.4M191.8 464.2V490.1"/>
<path d="M190.2 401.3h3.2M190.2 490.1h3.2"/>
<rect x="188.85" y="436.4" width="5.9" height="27.8"/>
<path d="M188.85 452.5h5.9"/>
</g>
<g fill="#1f77b4" fill-opacity="0.85">
<ellipse cx="191.66" cy="401.74" rx="0.9" ry="0.7"/>
<ellipse cx="191.75" cy="408.15" rx="0.9" ry="0.7"/>
<ellipse cx="191.59" cy="462.19" rx="0.9" ry="0.7"/>
<ellipse cx="191.66" cy="462.36" rx="0.9" ry="0.7"/>
<ellipse cx="192" cy="487.22" rx="0.9" ry="0.7"/>
<ellipse cx="191.7" cy="448.83" rx="0.9" ry="0.7"/>
<ellipse cx="191.6" cy="462.22" rx="0.9" ry="0.7"/>
<ellipse cx="191.79" cy="480.47" rx="0.9" ry="0.7"/>
<ellipse cx="191.69" cy="445.85" rx="0.9" ry="0.7"/>
<ellipse cx="192.04" cy="476.57" rx="0.9" ry="0.7"/>
<ellipse cx="191.57" cy="406.31" rx="0.9" ry="0.7"/>
<ellipse cx="192.09" cy="437.98" rx="0.9" ry="0.7"/>
<ellipse cx="191.53" cy="420.72" rx="0.9" ry="0.7"/>
<ellipse cx="192.04" cy="460.61" rx="0.9" ry="0.7"/>
<ellipse cx="191.9" cy="401.3" rx="0.9" ry="0.7"/>
<ellipse cx="191.63" cy="490.1" rx="0.9" ry="0.7"/>
<ellipse cx="191.79" cy="452.5" rx="0.9" ry="0.7"/>
</g>
<circle cx="191.8" cy="387.3" r="1.2" fill="#1f77b4"/>
<g stroke="#ff7f0e" stroke-width="0.8" fill="none">
<path stroke-width="0.75" d="M199.5 387.9V424.3M199.5 478.2V496.2"/>
<path d="M197.9 387.9h3.2M197.9 496.2h3.2"/>
<rect x="196.55" y="424.3" width="5.9" height="53.9"/>
<path d="M196.55 442.3h5.9"/>
</g>
<g fill="#ff7f0e" fill-opacity="0.85">
<ellipse cx="199.66" cy="438.2" rx="0.9" ry="0.7"/>
<ellipse cx="199.63" cy="443.93" rx="0.9" ry="0.7"/>
<ellipse cx="199.32" cy="496.17" rx="0.9" ry="0.7"/>
<ellipse cx="199.25" cy="479.96" rx="0.9" ry="0.7"/>
<ellipse cx="199.25" cy="472.61" rx="0.9" ry="0.7"/>
<ellipse cx="199.57" cy="463.46" rx="0.9" ry="0.7"/>
<ellipse cx="199.5" cy="477.05" rx="0.9" ry="0.7"/>
<ellipse cx="199.36" cy="467.8" rx="0.9" ry="0.7"/>
<ellipse cx="199.32" cy="431.85" rx="0.9" ry="0.7"/>
<ellipse cx="199.57" cy="469.16" rx="0.9" ry="0.7"/>
<ellipse cx="199.62" cy="434.32" rx="0.9" ry="0.7"/>
<ellipse cx="199.69" cy="473.46" rx="0.9" ry="0.7"/>
<ellipse cx="199.55" cy="455.1" rx="0.9" ry="0.7"/>
<ellipse cx="199.32" cy="434.01" rx="0.9" ry="0.7"/>
<ellipse cx="199.24" cy="387.9" rx="0.9" ry="0.7"/>
<ellipse cx="199.64" cy="496.2" rx="0.9" ry="0.7"/>
<ellipse cx="199.44" cy="442.3" rx="0.9" ry="0.7"/>
</g>
<g stroke="#2ca02c" stroke-width="0.8" fill="none">
<path stroke-width="0.75" d="M207.2 388.8V422.8M207.2 464.2V484.5"/>
<path d="M205.6 388.8h3.2M205.6 484.5h3.2"/>
<rect x="204.25" y="422.8" width="5.9" height="41.4"/>
<path d="M204.25 454.2h5.9"/>
</g>
<g fill="#2ca02c" fill-opacity="0.85">
<ellipse cx="207.13" cy="390.68" rx="0.9" ry="0.7"/>
<ellipse cx="207.35" cy="471" rx="0.9" ry="0.7"/>
<ellipse cx="206.94" cy="481.75" rx="0.9" ry="0.7"/>
<ellipse cx="207.42" cy="423.44" rx="0.9" ry="0.7"/>
<ellipse cx="207.47" cy="473.88" rx="0.9" ry="0.7"/>
<ellipse cx="207.2" cy="469.61" rx="0.9" ry="0.7"/>
<ellipse cx="207.21" cy="457.23" rx="0.9" ry="0.7"/>
<ellipse cx="207.22" cy="429.57" rx="0.9" ry="0.7"/>
<ellipse cx="207.22" cy="447.43" rx="0.9" ry="0.7"/>
<ellipse cx="206.91" cy="444.32" rx="0.9" ry="0.7"/>
<ellipse cx="207.48" cy="444.15" rx="0.9" ry="0.7"/>
<ellipse cx="207.03" cy="452.38" rx="0.9" ry="0.7"/>
<ellipse cx="207.01" cy="481.77" rx="0.9" ry="0.7"/>
<ellipse cx="206.96" cy="452.24" rx="0.9" ry="0.7"/>
<ellipse cx="207.05" cy="388.8" rx="0.9" ry="0.7"/>
<ellipse cx="207.39" cy="484.5" rx="0.9" ry="0.7"/>
<ellipse cx="206.92" cy="454.2" rx="0.9" ry="0.7"/>
</g>
<g stroke="#d62728" stroke-width="0.8" fill="none">
<path stroke-width="0.75" d="M214.9 386.3V416.6M214.9 482.4V503.3"/>
<path d="M213.3 386.3h3.2M213.3 503.3h3.2"/>
<rect x="211.95" y="416.6" width="5.9" height="65.8"/>
<path d="M211.95 453.5h5.9"/>
</g>
<g fill="#d62728" fill-opacity="0.85">
<ellipse cx="214.85" cy="462.59" rx="0.9" ry="0.7"/>
<ellipse cx="215.1" cy="417.76" rx="0.9" ry="0.7"/>
<ellipse cx="214.92" cy="403.77" rx="0.9" ry="0.7"/>
<ellipse cx="214.84" cy="462.83" rx="0.9" ry="0.7"/>
<ellipse cx="215.16" cy="473.81" rx="0.9" ry="0.7"/>
<ellipse cx="215.07" cy="387.67" rx="0.9" ry="0.7"/>
<ellipse cx="214.8" cy="449.08" rx="0.9" ry="0.7"/>
<ellipse cx="214.74" cy="435" rx="0.9" ry="0.7"/>
<ellipse cx="214.8" cy="443.29" rx="0.9" ry="0.7"/>
<ellipse cx="214.86" cy="455.54" rx="0.9" ry="0.7"/>
<ellipse cx="215.19" cy="485.48" rx="0.9" ry="0.7"/>
<ellipse cx="215.08" cy="408.92" rx="0.9" ry="0.7"/>
<ellipse cx="215.15" cy="470.95" rx="0.9" ry="0.7"/>
<ellipse cx="215.09" cy="490.52" rx="0.9" ry="0.7"/>
<ellipse cx="215.11" cy="386.3" rx="0.9" ry="0.7"/>
<ellipse cx="214.63" cy="503.3" rx="0.9" ry="0.7"/>
<ellipse cx="214.91" cy="453.5" rx="0.9" ry="0.7"/>
</g>
<circle cx="214.9" cy="625" r="1.2" fill="#d62728"/>
<g stroke="#1f77b4" stroke-width="0.8" fill="none">
<path stroke-width="0.75" d="M253.3 364.2V445.5M253.3 507.3V574.2"/>
<path d="M251.7 364.2h3.2M251.7 574.2h3.2"/>
<rect x="250.35" y="445.5" width="5.9" height="61.8"/>
<path d="M250.35 482.2h5.9"/>
</g>
<g fill="#1f77b4" fill-opacity="0.85">
<ellipse cx="253.31" cy="569.81" rx="0.9" ry="0.7"/>
<ellipse cx="253.26" cy="471.59" rx="0.9" ry="0.7"/>
<ellipse cx="253.57" cy="393.83" rx="0.9" ry="0.7"/>
<ellipse cx="253.17" cy="449.78" rx="0.9" ry="0.7"/>
<ellipse cx="253.18" cy="476.7" rx="0.9" ry="0.7"/>
<ellipse cx="253.39" cy="454.12" rx="0.9" ry="0.7"/>
<ellipse cx="253.07" cy="559.25" rx="0.9" ry="0.7"/>
<ellipse cx="253.36" cy="549.66" rx="0.9" ry="0.7"/>
<ellipse cx="253.57" cy="566.46" rx="0.9" ry="0.7"/>
<ellipse cx="253.31" cy="509.6" rx="0.9" ry="0.7"/>
<ellipse cx="253.16" cy="385.81" rx="0.9" ry="0.7"/>
<ellipse cx="253.28" cy="386.43" rx="0.9" ry="0.7"/>
<ellipse cx="253.32" cy="502.63" rx="0.9" ry="0.7"/>
<ellipse cx="253.09" cy="384.57" rx="0.9" ry="0.7"/>
<ellipse cx="253.07" cy="364.2" rx="0.9" ry="0.7"/>
<ellipse cx="253.08" cy="574.2" rx="0.9" ry="0.7"/>
<ellipse cx="253.18" cy="482.2" rx="0.9" ry="0.7"/>
</g>
<g stroke="#ff7f0e" stroke-width="0.8" fill="none">
<path stroke-width="0.75" d="M261 362.5V417.9M261 510V537.1"/>
<path d="M259.4 362.5h3.2M259.4 537.1h3.2"/>
<rect x="258.05" y="417.9" width="5.9" height="92.1"/>
<path d="M258.05 451.3h5.9"/>
</g>
<g fill="#ff7f0e" fill-opacity="0.85">
<ellipse cx="261.29" cy="444.45" rx="0.9" ry="0.7"/>
<ellipse cx="260.88" cy="425.99" rx="0.9" ry="0.7"/>
<ellipse cx="261.16" cy="495.24" rx="0.9" ry="0.7"/>
<ellipse cx="260.8" cy="394.09" rx="0.9" ry="0.7"/>
<ellipse cx="260.74" cy="373.65" rx="0.9" ry="0.7"/>
<ellipse cx="261.22" cy="388.03" rx="0.9" ry="0.7"/>
<ellipse cx="260.96" cy="474.34" rx="0.9" ry="0.7"/>
<ellipse cx="260.74" cy="446.5" rx="0.9" ry="0.7"/>
<ellipse cx="260.93" cy="438.31" rx="0.9" ry="0.7"/>
<ellipse cx="260.96" cy="453.19" rx="0.9" ry="0.7"/>
<ellipse cx="261.14" cy="363.16" rx="0.9" ry="0.7"/>
<ellipse cx="260.77" cy="497.28" rx="0.9" ry="0.7"/>
<ellipse cx="260.84" cy="469.17" rx="0.9" ry="0.7"/>
<ellipse cx="261.28" cy="444.13" rx="0.9" ry="0.7"/>
<ellipse cx="261.14" cy="362.5" rx="0.9" ry="0.7"/>
<ellipse cx="260.79" cy="537.1" rx="0.9" ry="0.7"/>
<ellipse cx="260.9" cy="451.3" rx="0.9" ry="0.7"/>
</g>
<g stroke="#2ca02c" stroke-width="0.8" fill="none">
<path stroke-width="0.75" d="M268.7 412.7V464.3M268.7 499.2V546.5"/>
<path d="M267.1 412.7h3.2M267.1 546.5h3.2"/>
<rect x="265.75" y="464.3" width="5.9" height="34.9"/>
<path d="M265.75 484.7h5.9"/>
</g>
<g fill="#2ca02c" fill-opacity="0.85">
<ellipse cx="268.83" cy="487.87" rx="0.9" ry="0.7"/>
<ellipse cx="268.58" cy="456.56" rx="0.9" ry="0.7"/>
<ellipse cx="268.63" cy="523.69" rx="0.9" ry="0.7"/>
<ellipse cx="268.73" cy="451.05" rx="0.9" ry="0.7"/>
<ellipse cx="268.63" cy="437.22" rx="0.9" ry="0.7"/>
<ellipse cx="268.59" cy="532.71" rx="0.9" ry="0.7"/>
<ellipse cx="268.87" cy="505.22" rx="0.9" ry="0.7"/>
<ellipse cx="268.91" cy="499.4" rx="0.9" ry="0.7"/>
<ellipse cx="268.7" cy="442.93" rx="0.9" ry="0.7"/>
<ellipse cx="268.67" cy="497.9" rx="0.9" ry="0.7"/>
<ellipse cx="268.51" cy="434.26" rx="0.9" ry="0.7"/>
<ellipse cx="268.58" cy="540.48" rx="0.9" ry="0.7"/>
<ellipse cx="268.49" cy="432.29" rx="0.9" ry="0.7"/>
<ellipse cx="268.75" cy="480.28" rx="0.9" ry="0.7"/>
<ellipse cx="268.75" cy="412.7" rx="0.9" ry="0.7"/>
<ellipse cx="268.45" cy="546.5" rx="0.9" ry="0.7"/>
<ellipse cx="268.95" cy="484.7" rx="0.9" ry="0.7"/>
</g>
<circle cx="268.7" cy="383" r="1.2" fill="#2ca02c"/>
<circle cx="268.7" cy="405" r="1.2" fill="#2ca02c"/>
<g stroke="#d62728" stroke-width="0.8" fill="none">
<path stroke-width="0.75" d="M276.4 380.3V442.6M276.4 619.3V625.2"/>
<path d="M274.8 380.3h3.2M274.8 625.2h3.2"/>
<rect x="273.45" y="442.6" width="5.9" height="176.7"/>
<path d="M273.45 462.2h5.9"/>
</g>
<g fill="#d62728" fill-opacity="0.85">
<ellipse cx="276.44" cy="591.63" rx="0.9" ry="0.7"/>
<ellipse cx="276.44" cy="624.96" rx="0.9" ry="0.7"/>
<ellipse cx="276.63" cy="517.95" rx="0.9" ry="0.7"/>
<ellipse cx="276.68" cy="619.36" rx="0.9" ry="0.7"/>
<ellipse cx="276.39" cy="542.42" rx="0.9" ry="0.7"/>
<ellipse cx="276.36" cy="605.22" rx="0.9" ry="0.7"/>
<ellipse cx="276.47" cy="413.85" rx="0.9" ry="0.7"/>
<ellipse cx="276.7" cy="622.35" rx="0.9" ry="0.7"/>
<ellipse cx="276.31" cy="563.68" rx="0.9" ry="0.7"/>
<ellipse cx="276.42" cy="505.81" rx="0.9" ry="0.7"/>
<ellipse cx="276.59" cy="402.17" rx="0.9" ry="0.7"/>
<ellipse cx="276.2" cy="623.29" rx="0.9" ry="0.7"/>
<ellipse cx="276.29" cy="460.09" rx="0.9" ry="0.7"/>
<ellipse cx="276.69" cy="513.44" rx="0.9" ry="0.7"/>
<ellipse cx="276.6" cy="380.3" rx="0.9" ry="0.7"/>
<ellipse cx="276.41" cy="625.2" rx="0.9" ry="0.7"/>
<ellipse cx="276.17" cy="462.2" rx="0.9" ry="0.7"/>
</g>
<g stroke="#1f77b4" stroke-width="0.8" fill="none">
<path stroke-width="0.75" d="M314.8 357.3V411.6M314.8 480.5V545"/>
<path d="M313.2 357.3h3.2M313.2 545h3.2"/>
<rect x="311.85" y="411.6" width="5.9" height="68.9"/>
<path d="M311.85 441.9h5.9"/>
</g>
<g fill="#1f77b4" fill-opacity="0.85">
<ellipse cx="314.8" cy="525" rx="0.9" ry="0.7"/>
<ellipse cx="314.83" cy="544.37" rx="0.9" ry="0.7"/>
<ellipse cx="314.66" cy="507.65" rx="0.9" ry="0.7"/>
<ellipse cx="314.89" cy="431.58" rx="0.9" ry="0.7"/>
<ellipse cx="314.82" cy="446.39" rx="0.9" ry="0.7"/>
<ellipse cx="315.1" cy="424.17" rx="0.9" ry="0.7"/>
<ellipse cx="314.84" cy="390.05" rx="0.9" ry="0.7"/>
<ellipse cx="314.75" cy="480.07" rx="0.9" ry="0.7"/>
<ellipse cx="314.57" cy="359.6" rx="0.9" ry="0.7"/>
<ellipse cx="314.59" cy="465.87" rx="0.9" ry="0.7"/>
<ellipse cx="314.96" cy="459.19" rx="0.9" ry="0.7"/>
<ellipse cx="314.56" cy="432.58" rx="0.9" ry="0.7"/>
<ellipse cx="314.56" cy="518.31" rx="0.9" ry="0.7"/>
<ellipse cx="314.6" cy="367.98" rx="0.9" ry="0.7"/>
<ellipse cx="314.81" cy="357.3" rx="0.9" ry="0.7"/>
<ellipse cx="314.99" cy="545" rx="0.9" ry="0.7"/>
<ellipse cx="314.87" cy="441.9" rx="0.9" ry="0.7"/>
</g>
<g stroke="#ff7f0e" stroke-width="0.8" fill="none">
<path stroke-width="0.75" d="M322.5 357.3V392.4M322.5 474.2V521.6"/>
<path d="M320.9 357.3h3.2M320.9 521.6h3.2"/>
<rect x="319.55" y="392.4" width="5.9" height="81.8"/>
<path d="M319.55 426.7h5.9"/>
</g>
<g fill="#ff7f0e" fill-opacity="0.85">
<ellipse cx="322.38" cy="477.14" rx="0.9" ry="0.7"/>
<ellipse cx="322.56" cy="455.43" rx="0.9" ry="0.7"/>
<ellipse cx="322.78" cy="450.92" rx="0.9" ry="0.7"/>
<ellipse cx="322.5" cy="406.26" rx="0.9" ry="0.7"/>
<ellipse cx="322.77" cy="400.54" rx="0.9" ry="0.7"/>
<ellipse cx="322.35" cy="501.8" rx="0.9" ry="0.7"/>
<ellipse cx="322.43" cy="429.2" rx="0.9" ry="0.7"/>
<ellipse cx="322.63" cy="396.87" rx="0.9" ry="0.7"/>
<ellipse cx="322.33" cy="501.82" rx="0.9" ry="0.7"/>
<ellipse cx="322.39" cy="495.04" rx="0.9" ry="0.7"/>
<ellipse cx="322.73" cy="366.05" rx="0.9" ry="0.7"/>
<ellipse cx="322.49" cy="468.54" rx="0.9" ry="0.7"/>
<ellipse cx="322.68" cy="489.12" rx="0.9" ry="0.7"/>
<ellipse cx="322.35" cy="512.87" rx="0.9" ry="0.7"/>
<ellipse cx="322.3" cy="357.3" rx="0.9" ry="0.7"/>
<ellipse cx="322.42" cy="521.6" rx="0.9" ry="0.7"/>
<ellipse cx="322.31" cy="426.7" rx="0.9" ry="0.7"/>
</g>
<g stroke="#2ca02c" stroke-width="0.8" fill="none">
<path stroke-width="0.75" d="M330.2 374.7V442.6M330.2 498V530.4"/>
<path d="M328.6 374.7h3.2M328.6 530.4h3.2"/>
<rect x="327.25" y="442.6" width="5.9" height="55.4"/>
<path d="M327.25 475.4h5.9"/>
</g>
<g fill="#2ca02c" fill-opacity="0.85">
<ellipse cx="330.11" cy="507.42" rx="0.9" ry="0.7"/>
<ellipse cx="330.33" cy="382.5" rx="0.9" ry="0.7"/>
<ellipse cx="330.13" cy="463.96" rx="0.9" ry="0.7"/>
<ellipse cx="330.48" cy="446.23" rx="0.9" ry="0.7"/>
<ellipse cx="330.02" cy="488.35" rx="0.9" ry="0.7"/>
<ellipse cx="330.47" cy="456.17" rx="0.9" ry="0.7"/>
<ellipse cx="330.2" cy="458.31" rx="0.9" ry="0.7"/>
<ellipse cx="330.04" cy="444.53" rx="0.9" ry="0.7"/>
<ellipse cx="330.17" cy="397.88" rx="0.9" ry="0.7"/>
<ellipse cx="329.98" cy="481.71" rx="0.9" ry="0.7"/>
<ellipse cx="330.32" cy="457.54" rx="0.9" ry="0.7"/>
<ellipse cx="330.06" cy="502.14" rx="0.9" ry="0.7"/>
<ellipse cx="330.44" cy="488.93" rx="0.9" ry="0.7"/>
<ellipse cx="330.25" cy="503.16" rx="0.9" ry="0.7"/>
<ellipse cx="330.12" cy="374.7" rx="0.9" ry="0.7"/>
<ellipse cx="330.05" cy="530.4" rx="0.9" ry="0.7"/>
<ellipse cx="330.26" cy="475.4" rx="0.9" ry="0.7"/>
</g>
<g stroke="#d62728" stroke-width="0.8" fill="none">
<path stroke-width="0.75" d="M337.9 403.3V436.1M337.9 462.2V471.1"/>
<path d="M336.3 403.3h3.2M336.3 471.1h3.2"/>
<rect x="334.95" y="436.1" width="5.9" height="26.1"/>
<path d="M334.95 452.4h5.9"/>
</g>
<g fill="#d62728" fill-opacity="0.85">
<ellipse cx="337.84" cy="458.87" rx="0.9" ry="0.7"/>
<ellipse cx="338.15" cy="449.49" rx="0.9" ry="0.7"/>
<ellipse cx="338.06" cy="443.16" rx="0.9" ry="0.7"/>
<ellipse cx="338.13" cy="415.92" rx="0.9" ry="0.7"/>
<ellipse cx="338.12" cy="421.92" rx="0.9" ry="0.7"/>
<ellipse cx="337.68" cy="446.28" rx="0.9" ry="0.7"/>
<ellipse cx="337.77" cy="440.72" rx="0.9" ry="0.7"/>
<ellipse cx="337.62" cy="465.06" rx="0.9" ry="0.7"/>
<ellipse cx="338.01" cy="406.87" rx="0.9" ry="0.7"/>
<ellipse cx="338" cy="415.16" rx="0.9" ry="0.7"/>
<ellipse cx="337.81" cy="443.85" rx="0.9" ry="0.7"/>
<ellipse cx="337.85" cy="444.22" rx="0.9" ry="0.7"/>
<ellipse cx="338" cy="439.39" rx="0.9" ry="0.7"/>
<ellipse cx="338.02" cy="412.56" rx="0.9" ry="0.7"/>
<ellipse cx="337.75" cy="403.3" rx="0.9" ry="0.7"/>
<ellipse cx="338.11" cy="471.1" rx="0.9" ry="0.7"/>
<ellipse cx="337.81" cy="452.4" rx="0.9" ry="0.7"/>
</g>
<circle cx="337.9" cy="372.6" r="1.2" fill="#d62728"/>
<circle cx="337.9" cy="377.2" r="1.2" fill="#d62728"/>
<circle cx="337.9" cy="506.4" r="1.2" fill="#d62728"/>
<circle cx="337.9" cy="511.8" r="1.2" fill="#d62728"/>
<circle cx="337.9" cy="534.2" r="1.2" fill="#d62728"/>
<g stroke="#1f77b4" stroke-width="0.8" fill="none">
<path stroke-width="0.75" d="M376.3 360V412.3M376.3 464.9V487.8"/>
<path d="M374.7 360h3.2M374.7 487.8h3.2"/>
<rect x="373.35" y="412.3" width="5.9" height="52.6"/>
<path d="M373.35 441.3h5.9"/>
</g>
<g fill="#1f77b4" fill-opacity="0.85">
<ellipse cx="376.51" cy="369.5" rx="0.9" ry="0.7"/>
<ellipse cx="376.36" cy="460.31" rx="0.9" ry="0.7"/>
<ellipse cx="376.03" cy="397.27" rx="0.9" ry="0.7"/>
<ellipse cx="376.15" cy="414.4" rx="0.9" ry="0.7"/>
<ellipse cx="376.07" cy="422.72" rx="0.9" ry="0.7"/>
<ellipse cx="376.47" cy="432.33" rx="0.9" ry="0.7"/>
<ellipse cx="376.13" cy="428.65" rx="0.9" ry="0.7"/>
<ellipse cx="376.55" cy="369.4" rx="0.9" ry="0.7"/>
<ellipse cx="376.45" cy="477.96" rx="0.9" ry="0.7"/>
<ellipse cx="376.05" cy="373.32" rx="0.9" ry="0.7"/>
<ellipse cx="376.42" cy="448.3" rx="0.9" ry="0.7"/>
<ellipse cx="376.24" cy="412.35" rx="0.9" ry="0.7"/>
<ellipse cx="376.45" cy="482.68" rx="0.9" ry="0.7"/>
<ellipse cx="376.5" cy="414.56" rx="0.9" ry="0.7"/>
<ellipse cx="376.17" cy="360" rx="0.9" ry="0.7"/>
<ellipse cx="376.05" cy="487.8" rx="0.9" ry="0.7"/>
<ellipse cx="376.57" cy="441.3" rx="0.9" ry="0.7"/>
</g>
<circle cx="376.3" cy="573.1" r="1.2" fill="#1f77b4"/>
<g stroke="#ff7f0e" stroke-width="0.8" fill="none">
<path stroke-width="0.75" d="M384 360V410.6M384 453V480.1"/>
<path d="M382.4 360h3.2M382.4 480.1h3.2"/>
<rect x="381.05" y="410.6" width="5.9" height="42.4"/>
<path d="M381.05 427.7h5.9"/>
</g>
<g fill="#ff7f0e" fill-opacity="0.85">
<ellipse cx="383.78" cy="450.04" rx="0.9" ry="0.7"/>
<ellipse cx="384.12" cy="397.37" rx="0.9" ry="0.7"/>
<ellipse cx="384.1" cy="470.02" rx="0.9" ry="0.7"/>
<ellipse cx="383.84" cy="412.9" rx="0.9" ry="0.7"/>
<ellipse cx="383.85" cy="381.67" rx="0.9" ry="0.7"/>
<ellipse cx="384.01" cy="449.95" rx="0.9" ry="0.7"/>
<ellipse cx="383.97" cy="442.91" rx="0.9" ry="0.7"/>
<ellipse cx="384.26" cy="440.4" rx="0.9" ry="0.7"/>
<ellipse cx="383.91" cy="460.08" rx="0.9" ry="0.7"/>
<ellipse cx="383.88" cy="451.7" rx="0.9" ry="0.7"/>
<ellipse cx="384.23" cy="387.52" rx="0.9" ry="0.7"/>
<ellipse cx="383.79" cy="413.12" rx="0.9" ry="0.7"/>
<ellipse cx="384.04" cy="428.05" rx="0.9" ry="0.7"/>
<ellipse cx="383.9" cy="423.77" rx="0.9" ry="0.7"/>
<ellipse cx="384.19" cy="360" rx="0.9" ry="0.7"/>
<ellipse cx="384.03" cy="480.1" rx="0.9" ry="0.7"/>
<ellipse cx="384.16" cy="427.7" rx="0.9" ry="0.7"/>
</g>
<circle cx="384" cy="526.4" r="1.2" fill="#ff7f0e"/>
<g stroke="#2ca02c" stroke-width="0.8" fill="none">
<path stroke-width="0.75" d="M391.7 372.4V428.8M391.7 472.2V497.1"/>
<path d="M390.1 372.4h3.2M390.1 497.1h3.2"/>
<rect x="388.75" y="428.8" width="5.9" height="43.4"/>
<path d="M388.75 448.2h5.9"/>
</g>
<g fill="#2ca02c" fill-opacity="0.85">
<ellipse cx="391.47" cy="457.73" rx="0.9" ry="0.7"/>
<ellipse cx="391.69" cy="398.41" rx="0.9" ry="0.7"/>
<ellipse cx="391.66" cy="419.28" rx="0.9" ry="0.7"/>
<ellipse cx="391.51" cy="441.36" rx="0.9" ry="0.7"/>
<ellipse cx="391.73" cy="437.76" rx="0.9" ry="0.7"/>
<ellipse cx="391.4" cy="440.99" rx="0.9" ry="0.7"/>
<ellipse cx="391.95" cy="459.25" rx="0.9" ry="0.7"/>
<ellipse cx="391.79" cy="433.7" rx="0.9" ry="0.7"/>
<ellipse cx="391.78" cy="449.14" rx="0.9" ry="0.7"/>
<ellipse cx="391.96" cy="436.1" rx="0.9" ry="0.7"/>
<ellipse cx="391.79" cy="429.27" rx="0.9" ry="0.7"/>
<ellipse cx="391.55" cy="490.89" rx="0.9" ry="0.7"/>
<ellipse cx="391.55" cy="459.92" rx="0.9" ry="0.7"/>
<ellipse cx="391.48" cy="486.23" rx="0.9" ry="0.7"/>
<ellipse cx="391.42" cy="372.4" rx="0.9" ry="0.7"/>
<ellipse cx="391.86" cy="497.1" rx="0.9" ry="0.7"/>
<ellipse cx="391.9" cy="448.2" rx="0.9" ry="0.7"/>
</g>
<g stroke="#d62728" stroke-width="0.8" fill="none">
<path stroke-width="0.75" d="M399.4 370.9V426.3M399.4 468.8V504.3"/>
<path d="M397.8 370.9h3.2M397.8 504.3h3.2"/>
<rect x="396.45" y="426.3" width="5.9" height="42.5"/>
<path d="M396.45 448.2h5.9"/>
</g>
<g fill="#d62728" fill-opacity="0.85">
<ellipse cx="399.28" cy="434.19" rx="0.9" ry="0.7"/>
<ellipse cx="399.45" cy="417.75" rx="0.9" ry="0.7"/>
<ellipse cx="399.15" cy="474.78" rx="0.9" ry="0.7"/>
<ellipse cx="399.51" cy="498.28" rx="0.9" ry="0.7"/>
<ellipse cx="399.2" cy="389" rx="0.9" ry="0.7"/>
<ellipse cx="399.37" cy="461.38" rx="0.9" ry="0.7"/>
<ellipse cx="399.68" cy="441.96" rx="0.9" ry="0.7"/>
<ellipse cx="399.15" cy="391.36" rx="0.9" ry="0.7"/>
<ellipse cx="399.12" cy="477.3" rx="0.9" ry="0.7"/>
<ellipse cx="399.36" cy="450.39" rx="0.9" ry="0.7"/>
<ellipse cx="399.21" cy="416.31" rx="0.9" ry="0.7"/>
<ellipse cx="399.53" cy="421.05" rx="0.9" ry="0.7"/>
<ellipse cx="399.1" cy="486.35" rx="0.9" ry="0.7"/>
<ellipse cx="399.6" cy="432.99" rx="0.9" ry="0.7"/>
<ellipse cx="399.61" cy="370.9" rx="0.9" ry="0.7"/>
<ellipse cx="399.57" cy="504.3" rx="0.9" ry="0.7"/>
<ellipse cx="399.36" cy="448.2" rx="0.9" ry="0.7"/>
</g>
<circle cx="399.4" cy="625.2" r="1.2" fill="#d62728"/>
<g stroke="#1f77b4" stroke-width="0.8" fill="none">
<path stroke-width="0.75" d="M437.8 408.5V443M437.8 486.1V494.4"/>
<path d="M436.2 408.5h3.2M436.2 494.4h3.2"/>
<rect x="434.85" y="443" width="5.9" height="43.1"/>
<path d="M434.85 468.5h5.9"/>
</g>
<g fill="#1f77b4" fill-opacity="0.85">
<ellipse cx="437.68" cy="471.52" rx="0.9" ry="0.7"/>
<ellipse cx="437.84" cy="461.15" rx="0.9" ry="0.7"/>
<ellipse cx="438.07" cy="461.91" rx="0.9" ry="0.7"/>
<ellipse cx="437.79" cy="437" rx="0.9" ry="0.7"/>
<ellipse cx="437.89" cy="487.47" rx="0.9" ry="0.7"/>
<ellipse cx="437.68" cy="462.1" rx="0.9" ry="0.7"/>
<ellipse cx="437.71" cy="420.51" rx="0.9" ry="0.7"/>
<ellipse cx="438.03" cy="446.67" rx="0.9" ry="0.7"/>
<ellipse cx="437.52" cy="462.85" rx="0.9" ry="0.7"/>
<ellipse cx="437.61" cy="493.64" rx="0.9" ry="0.7"/>
<ellipse cx="437.91" cy="494.19" rx="0.9" ry="0.7"/>
<ellipse cx="437.77" cy="491.24" rx="0.9" ry="0.7"/>
<ellipse cx="437.55" cy="486.6" rx="0.9" ry="0.7"/>
<ellipse cx="437.9" cy="429.52" rx="0.9" ry="0.7"/>
<ellipse cx="437.72" cy="408.5" rx="0.9" ry="0.7"/>
<ellipse cx="437.85" cy="494.4" rx="0.9" ry="0.7"/>
<ellipse cx="437.75" cy="468.5" rx="0.9" ry="0.7"/>
</g>
<circle cx="437.8" cy="362.1" r="1.2" fill="#1f77b4"/>
<g stroke="#ff7f0e" stroke-width="0.8" fill="none">
<path stroke-width="0.75" d="M445.5 363V427.3M445.5 490.4V501.6"/>
<path d="M443.9 363h3.2M443.9 501.6h3.2"/>
<rect x="442.55" y="427.3" width="5.9" height="63.1"/>
<path d="M442.55 459.3h5.9"/>
</g>
<g fill="#ff7f0e" fill-opacity="0.85">
<ellipse cx="445.27" cy="462.94" rx="0.9" ry="0.7"/>
<ellipse cx="445.79" cy="434.51" rx="0.9" ry="0.7"/>
<ellipse cx="445.63" cy="483.46" rx="0.9" ry="0.7"/>
<ellipse cx="445.26" cy="434.38" rx="0.9" ry="0.7"/>
<ellipse cx="445.7" cy="493.24" rx="0.9" ry="0.7"/>
<ellipse cx="445.44" cy="460.79" rx="0.9" ry="0.7"/>
<ellipse cx="445.3" cy="458.17" rx="0.9" ry="0.7"/>
<ellipse cx="445.78" cy="377.57" rx="0.9" ry="0.7"/>
<ellipse cx="445.54" cy="370.27" rx="0.9" ry="0.7"/>
<ellipse cx="445.66" cy="464.43" rx="0.9" ry="0.7"/>
<ellipse cx="445.28" cy="453.05" rx="0.9" ry="0.7"/>
<ellipse cx="445.67" cy="455.03" rx="0.9" ry="0.7"/>
<ellipse cx="445.23" cy="496.57" rx="0.9" ry="0.7"/>
<ellipse cx="445.34" cy="411.67" rx="0.9" ry="0.7"/>
<ellipse cx="445.42" cy="363" rx="0.9" ry="0.7"/>
<ellipse cx="445.21" cy="501.6" rx="0.9" ry="0.7"/>
<ellipse cx="445.56" cy="459.3" rx="0.9" ry="0.7"/>
</g>
<g stroke="#2ca02c" stroke-width="0.8" fill="none">
<path stroke-width="0.75" d="M453.2 400.6V447.2M453.2 490.9V516.4"/>
<path d="M451.6 400.6h3.2M451.6 516.4h3.2"/>
<rect x="450.25" y="447.2" width="5.9" height="43.7"/>
<path d="M450.25 475.3h5.9"/>
</g>
<g fill="#2ca02c" fill-opacity="0.85">
<ellipse cx="453.31" cy="460.31" rx="0.9" ry="0.7"/>
<ellipse cx="453.05" cy="420.45" rx="0.9" ry="0.7"/>
<ellipse cx="453.02" cy="506.74" rx="0.9" ry="0.7"/>
<ellipse cx="453.17" cy="505.26" rx="0.9" ry="0.7"/>
<ellipse cx="453.4" cy="513.1" rx="0.9" ry="0.7"/>
<ellipse cx="453.25" cy="479.78" rx="0.9" ry="0.7"/>
<ellipse cx="452.97" cy="480.57" rx="0.9" ry="0.7"/>
<ellipse cx="452.91" cy="439.07" rx="0.9" ry="0.7"/>
<ellipse cx="452.97" cy="463.5" rx="0.9" ry="0.7"/>
<ellipse cx="453.38" cy="444.78" rx="0.9" ry="0.7"/>
<ellipse cx="453.01" cy="402.63" rx="0.9" ry="0.7"/>
<ellipse cx="453.23" cy="405.24" rx="0.9" ry="0.7"/>
<ellipse cx="453.07" cy="482.29" rx="0.9" ry="0.7"/>
<ellipse cx="453.31" cy="487.64" rx="0.9" ry="0.7"/>
<ellipse cx="453.13" cy="400.6" rx="0.9" ry="0.7"/>
<ellipse cx="452.99" cy="516.4" rx="0.9" ry="0.7"/>
<ellipse cx="453.43" cy="475.3" rx="0.9" ry="0.7"/>
</g>
<circle cx="453.2" cy="362.5" r="1.2" fill="#2ca02c"/>
<g stroke="#d62728" stroke-width="0.8" fill="none">
<path stroke-width="0.75" d="M460.9 361.9V441.3M460.9 494.9V548.1"/>
<path d="M459.3 361.9h3.2M459.3 548.1h3.2"/>
<rect x="457.95" y="441.3" width="5.9" height="53.6"/>
<path d="M457.95 474.2h5.9"/>
</g>
<g fill="#d62728" fill-opacity="0.85">
<ellipse cx="460.82" cy="478.26" rx="0.9" ry="0.7"/>
<ellipse cx="460.88" cy="545.37" rx="0.9" ry="0.7"/>
<ellipse cx="460.95" cy="459.65" rx="0.9" ry="0.7"/>
<ellipse cx="460.83" cy="468.2" rx="0.9" ry="0.7"/>
<ellipse cx="460.81" cy="537.48" rx="0.9" ry="0.7"/>
<ellipse cx="460.6" cy="451.07" rx="0.9" ry="0.7"/>
<ellipse cx="460.95" cy="531.05" rx="0.9" ry="0.7"/>
<ellipse cx="460.8" cy="466.8" rx="0.9" ry="0.7"/>
<ellipse cx="460.61" cy="486.6" rx="0.9" ry="0.7"/>
<ellipse cx="460.88" cy="488.09" rx="0.9" ry="0.7"/>
<ellipse cx="461.19" cy="367.93" rx="0.9" ry="0.7"/>
<ellipse cx="460.63" cy="452.89" rx="0.9" ry="0.7"/>
<ellipse cx="460.69" cy="526.25" rx="0.9" ry="0.7"/>
<ellipse cx="461" cy="450.4" rx="0.9" ry="0.7"/>
<ellipse cx="460.76" cy="361.9" rx="0.9" ry="0.7"/>
<ellipse cx="460.76" cy="548.1" rx="0.9" ry="0.7"/>
<ellipse cx="460.9" cy="474.2" rx="0.9" ry="0.7"/>
</g>
<circle cx="460.9" cy="580.9" r="1.2" fill="#d62728"/>
<circle cx="460.9" cy="601.1" r="1.2" fill="#d62728"/>
<g stroke="#1f77b4" stroke-width="0.8" fill="none">
<path stroke-width="0.75" d="M499.3 394.5V435.2M499.3 490.1V490.9"/>
<path d="M497.7 394.5h3.2M497.7 490.9h3.2"/>
<rect x="496.35" y="435.2" width="5.9" height="54.9"/>
<path d="M496.35 469.5h5.9"/>
</g>
<g fill="#1f77b4" fill-opacity="0.85">
<ellipse cx="499.19" cy="466.44" rx="0.9" ry="0.7"/>
<ellipse cx="499.59" cy="487.74" rx="0.9" ry="0.7"/>
<ellipse cx="499.29" cy="490.13" rx="0.9" ry="0.7"/>
<ellipse cx="499.22" cy="425.88" rx="0.9" ry="0.7"/>
<ellipse cx="499.15" cy="490.72" rx="0.9" ry="0.7"/>
<ellipse cx="499.14" cy="420.33" rx="0.9" ry="0.7"/>
<ellipse cx="499.21" cy="450.66" rx="0.9" ry="0.7"/>
<ellipse cx="499.08" cy="490.8" rx="0.9" ry="0.7"/>
<ellipse cx="499" cy="490.65" rx="0.9" ry="0.7"/>
<ellipse cx="499.52" cy="477.11" rx="0.9" ry="0.7"/>
<ellipse cx="499.27" cy="415.21" rx="0.9" ry="0.7"/>
<ellipse cx="499.27" cy="408.76" rx="0.9" ry="0.7"/>
<ellipse cx="499.34" cy="411.02" rx="0.9" ry="0.7"/>
<ellipse cx="499.18" cy="453.71" rx="0.9" ry="0.7"/>
<ellipse cx="499.1" cy="394.5" rx="0.9" ry="0.7"/>
<ellipse cx="499.04" cy="490.9" rx="0.9" ry="0.7"/>
<ellipse cx="499.18" cy="469.5" rx="0.9" ry="0.7"/>
</g>
<g stroke="#ff7f0e" stroke-width="0.8" fill="none">
<path stroke-width="0.75" d="M507 394.3V433.6M507 488.2V490.1"/>
<path d="M505.4 394.3h3.2M505.4 490.1h3.2"/>
<rect x="504.05" y="433.6" width="5.9" height="54.6"/>
<path d="M504.05 453.4h5.9"/>
</g>
<g fill="#ff7f0e" fill-opacity="0.85">
<ellipse cx="507.22" cy="473.28" rx="0.9" ry="0.7"/>
<ellipse cx="507.09" cy="431.14" rx="0.9" ry="0.7"/>
<ellipse cx="506.82" cy="483.9" rx="0.9" ry="0.7"/>
<ellipse cx="507.14" cy="397.45" rx="0.9" ry="0.7"/>
<ellipse cx="507.28" cy="465.29" rx="0.9" ry="0.7"/>
<ellipse cx="507.06" cy="488.88" rx="0.9" ry="0.7"/>
<ellipse cx="506.75" cy="411.13" rx="0.9" ry="0.7"/>
<ellipse cx="507.19" cy="488.33" rx="0.9" ry="0.7"/>
<ellipse cx="507.23" cy="482.69" rx="0.9" ry="0.7"/>
<ellipse cx="506.9" cy="447.66" rx="0.9" ry="0.7"/>
<ellipse cx="506.78" cy="442.59" rx="0.9" ry="0.7"/>
<ellipse cx="506.81" cy="472.06" rx="0.9" ry="0.7"/>
<ellipse cx="507.02" cy="455.42" rx="0.9" ry="0.7"/>
<ellipse cx="507.23" cy="466.52" rx="0.9" ry="0.7"/>
<ellipse cx="507.08" cy="394.3" rx="0.9" ry="0.7"/>
<ellipse cx="507.25" cy="490.1" rx="0.9" ry="0.7"/>
<ellipse cx="506.83" cy="453.4" rx="0.9" ry="0.7"/>
</g>
<g stroke="#2ca02c" stroke-width="0.8" fill="none">
<path stroke-width="0.75" d="M514.7 387.2V438.4M514.7 490.9V546.5"/>
<path d="M513.1 387.2h3.2M513.1 546.5h3.2"/>
<rect x="511.75" y="438.4" width="5.9" height="52.5"/>
<path d="M511.75 486.5h5.9"/>
</g>
<g fill="#2ca02c" fill-opacity="0.85">
<ellipse cx="514.89" cy="477.74" rx="0.9" ry="0.7"/>
<ellipse cx="514.65" cy="407.95" rx="0.9" ry="0.7"/>
<ellipse cx="514.72" cy="404.49" rx="0.9" ry="0.7"/>
<ellipse cx="514.75" cy="460.15" rx="0.9" ry="0.7"/>
<ellipse cx="514.73" cy="471.28" rx="0.9" ry="0.7"/>
<ellipse cx="514.79" cy="464.35" rx="0.9" ry="0.7"/>
<ellipse cx="514.76" cy="400.36" rx="0.9" ry="0.7"/>
<ellipse cx="514.6" cy="439.11" rx="0.9" ry="0.7"/>
<ellipse cx="514.84" cy="522.27" rx="0.9" ry="0.7"/>
<ellipse cx="514.55" cy="494.01" rx="0.9" ry="0.7"/>
<ellipse cx="514.83" cy="424.28" rx="0.9" ry="0.7"/>
<ellipse cx="514.86" cy="443.31" rx="0.9" ry="0.7"/>
<ellipse cx="514.87" cy="445.89" rx="0.9" ry="0.7"/>
<ellipse cx="514.59" cy="391.8" rx="0.9" ry="0.7"/>
<ellipse cx="514.86" cy="387.2" rx="0.9" ry="0.7"/>
<ellipse cx="514.99" cy="546.5" rx="0.9" ry="0.7"/>
<ellipse cx="514.67" cy="486.5" rx="0.9" ry="0.7"/>
</g>
<g stroke="#d62728" stroke-width="0.8" fill="none">
<path stroke-width="0.75" d="M522.4 378.8V438.2M522.4 623.9V625"/>
<path d="M520.8 378.8h3.2M520.8 625h3.2"/>
<rect x="519.45" y="438.2" width="5.9" height="185.7"/>
<path d="M519.45 508.9h5.9"/>
</g>
<g fill="#d62728" fill-opacity="0.85">
<ellipse cx="522.25" cy="535.38" rx="0.9" ry="0.7"/>
<ellipse cx="522.69" cy="624.05" rx="0.9" ry="0.7"/>
<ellipse cx="522.4" cy="526.55" rx="0.9" ry="0.7"/>
<ellipse cx="522.48" cy="424.79" rx="0.9" ry="0.7"/>
<ellipse cx="522.31" cy="621.95" rx="0.9" ry="0.7"/>
<ellipse cx="522.58" cy="578.7" rx="0.9" ry="0.7"/>
<ellipse cx="522.38" cy="443.39" rx="0.9" ry="0.7"/>
<ellipse cx="522.29" cy="449.37" rx="0.9" ry="0.7"/>
<ellipse cx="522.64" cy="541.31" rx="0.9" ry="0.7"/>
<ellipse cx="522.16" cy="612.71" rx="0.9" ry="0.7"/>
<ellipse cx="522.54" cy="465.93" rx="0.9" ry="0.7"/>
<ellipse cx="522.14" cy="575.2" rx="0.9" ry="0.7"/>
<ellipse cx="522.49" cy="624.08" rx="0.9" ry="0.7"/>
<ellipse cx="522.34" cy="582.69" rx="0.9" ry="0.7"/>
<ellipse cx="522.62" cy="378.8" rx="0.9" ry="0.7"/>
<ellipse cx="522.14" cy="625" rx="0.9" ry="0.7"/>
<ellipse cx="522.44" cy="508.9" rx="0.9" ry="0.7"/>
</g>
<g stroke="#1f77b4" stroke-width="0.8" fill="none">
<path stroke-width="0.75" d="M560.8 437.6V460.6M560.8 484.2V492.4"/>
<path d="M559.2 437.6h3.2M559.2 492.4h3.2"/>
<rect x="557.85" y="460.6" width="5.9" height="23.6"/>
<path d="M557.85 478.4h5.9"/>
</g>
<g fill="#1f77b4" fill-opacity="0.85">
<ellipse cx="560.86" cy="482.29" rx="0.9" ry="0.7"/>
<ellipse cx="560.77" cy="489.34" rx="0.9" ry="0.7"/>
<ellipse cx="560.85" cy="466.55" rx="0.9" ry="0.7"/>
<ellipse cx="561.03" cy="470.84" rx="0.9" ry="0.7"/>
<ellipse cx="560.63" cy="465.4" rx="0.9" ry="0.7"/>
<ellipse cx="561.03" cy="452.38" rx="0.9" ry="0.7"/>
<ellipse cx="560.72" cy="484.07" rx="0.9" ry="0.7"/>
<ellipse cx="560.97" cy="474.04" rx="0.9" ry="0.7"/>
<ellipse cx="561.02" cy="480.97" rx="0.9" ry="0.7"/>
<ellipse cx="560.61" cy="486.39" rx="0.9" ry="0.7"/>
<ellipse cx="561.02" cy="456.53" rx="0.9" ry="0.7"/>
<ellipse cx="561.1" cy="468.42" rx="0.9" ry="0.7"/>
<ellipse cx="560.68" cy="481.63" rx="0.9" ry="0.7"/>
<ellipse cx="560.51" cy="476.71" rx="0.9" ry="0.7"/>
<ellipse cx="560.57" cy="437.6" rx="0.9" ry="0.7"/>
<ellipse cx="561.08" cy="492.4" rx="0.9" ry="0.7"/>
<ellipse cx="560.51" cy="478.4" rx="0.9" ry="0.7"/>
</g>
<circle cx="560.8" cy="409.4" r="1.2" fill="#1f77b4"/>
<g stroke="#ff7f0e" stroke-width="0.8" fill="none">
<path stroke-width="0.75" d="M568.5 424.7V445.3M568.5 487.8V502.4"/>
<path d="M566.9 424.7h3.2M566.9 502.4h3.2"/>
<rect x="565.55" y="445.3" width="5.9" height="42.5"/>
<path d="M565.55 461.6h5.9"/>
</g>
<g fill="#ff7f0e" fill-opacity="0.85">
<ellipse cx="568.46" cy="490" rx="0.9" ry="0.7"/>
<ellipse cx="568.31" cy="426.71" rx="0.9" ry="0.7"/>
<ellipse cx="568.61" cy="474.32" rx="0.9" ry="0.7"/>
<ellipse cx="568.29" cy="459.73" rx="0.9" ry="0.7"/>
<ellipse cx="568.64" cy="498.26" rx="0.9" ry="0.7"/>
<ellipse cx="568.5" cy="502.1" rx="0.9" ry="0.7"/>
<ellipse cx="568.27" cy="455.27" rx="0.9" ry="0.7"/>
<ellipse cx="568.41" cy="497.87" rx="0.9" ry="0.7"/>
<ellipse cx="568.5" cy="466.75" rx="0.9" ry="0.7"/>
<ellipse cx="568.75" cy="463.6" rx="0.9" ry="0.7"/>
<ellipse cx="568.41" cy="446.15" rx="0.9" ry="0.7"/>
<ellipse cx="568.33" cy="492.42" rx="0.9" ry="0.7"/>
<ellipse cx="568.78" cy="489.56" rx="0.9" ry="0.7"/>
<ellipse cx="568.73" cy="451.07" rx="0.9" ry="0.7"/>
<ellipse cx="568.64" cy="424.7" rx="0.9" ry="0.7"/>
<ellipse cx="568.36" cy="502.4" rx="0.9" ry="0.7"/>
<ellipse cx="568.31" cy="461.6" rx="0.9" ry="0.7"/>
</g>
<g stroke="#2ca02c" stroke-width="0.8" fill="none">
<path stroke-width="0.75" d="M576.2 436.6V460.6M576.2 489.4V507.6"/>
<path d="M574.6 436.6h3.2M574.6 507.6h3.2"/>
<rect x="573.25" y="460.6" width="5.9" height="28.8"/>
<path d="M573.25 478.4h5.9"/>
</g>
<g fill="#2ca02c" fill-opacity="0.85">
<ellipse cx="576.05" cy="462.58" rx="0.9" ry="0.7"/>
<ellipse cx="576.27" cy="475.25" rx="0.9" ry="0.7"/>
<ellipse cx="576.13" cy="476.63" rx="0.9" ry="0.7"/>
<ellipse cx="576.04" cy="460.9" rx="0.9" ry="0.7"/>
<ellipse cx="576.02" cy="452.27" rx="0.9" ry="0.7"/>
<ellipse cx="575.97" cy="476.41" rx="0.9" ry="0.7"/>
<ellipse cx="576.41" cy="460.18" rx="0.9" ry="0.7"/>
<ellipse cx="576.37" cy="502.46" rx="0.9" ry="0.7"/>
<ellipse cx="576.45" cy="469.77" rx="0.9" ry="0.7"/>
<ellipse cx="575.93" cy="488.62" rx="0.9" ry="0.7"/>
<ellipse cx="576.32" cy="471.7" rx="0.9" ry="0.7"/>
<ellipse cx="576.09" cy="464.72" rx="0.9" ry="0.7"/>
<ellipse cx="576.29" cy="489.5" rx="0.9" ry="0.7"/>
<ellipse cx="576.23" cy="458.83" rx="0.9" ry="0.7"/>
<ellipse cx="576.09" cy="436.6" rx="0.9" ry="0.7"/>
<ellipse cx="576.48" cy="507.6" rx="0.9" ry="0.7"/>
<ellipse cx="575.9" cy="478.4" rx="0.9" ry="0.7"/>
</g>
<circle cx="576.2" cy="409.4" r="1.2" fill="#2ca02c"/>
<g stroke="#d62728" stroke-width="0.8" fill="none">
<path stroke-width="0.75" d="M583.9 410.9V449.5M583.9 479.8V511.8"/>
<path d="M582.3 410.9h3.2M582.3 511.8h3.2"/>
<rect x="580.95" y="449.5" width="5.9" height="30.3"/>
<path d="M580.95 459.5h5.9"/>
</g>
<g fill="#d62728" fill-opacity="0.85">
<ellipse cx="583.92" cy="443.84" rx="0.9" ry="0.7"/>
<ellipse cx="583.91" cy="467.45" rx="0.9" ry="0.7"/>
<ellipse cx="583.92" cy="487.3" rx="0.9" ry="0.7"/>
<ellipse cx="584.09" cy="439.59" rx="0.9" ry="0.7"/>
<ellipse cx="583.74" cy="471.08" rx="0.9" ry="0.7"/>
<ellipse cx="583.7" cy="465.45" rx="0.9" ry="0.7"/>
<ellipse cx="584.09" cy="437.04" rx="0.9" ry="0.7"/>
<ellipse cx="583.88" cy="468.56" rx="0.9" ry="0.7"/>
<ellipse cx="583.98" cy="456.26" rx="0.9" ry="0.7"/>
<ellipse cx="584.1" cy="421.13" rx="0.9" ry="0.7"/>
<ellipse cx="584.14" cy="494.94" rx="0.9" ry="0.7"/>
<ellipse cx="584.12" cy="431.05" rx="0.9" ry="0.7"/>
<ellipse cx="583.63" cy="456.2" rx="0.9" ry="0.7"/>
<ellipse cx="583.83" cy="477.6" rx="0.9" ry="0.7"/>
<ellipse cx="584.1" cy="410.9" rx="0.9" ry="0.7"/>
<ellipse cx="584.09" cy="511.8" rx="0.9" ry="0.7"/>
<ellipse cx="583.67" cy="459.5" rx="0.9" ry="0.7"/>
</g>
<rect x="605.9" y="457.4" width="77.3" height="57.6" rx="2" fill="#fff" stroke="#e2e2e2" stroke-width="1"/>
<line x1="608.4" y1="465.1" x2="629.7" y2="465.1" stroke="#1f77b4" stroke-width="2"/>
<text class="t" x="636.9" y="468.7">AUC</text>
<line x1="608.4" y1="478.9" x2="629.7" y2="478.9" stroke="#ff7f0e" stroke-width="2"/>
<text class="t" x="636.9" y="482.5">AUPR</text>
<line x1="608.4" y1="492.7" x2="629.7" y2="492.7" stroke="#2ca02c" stroke-width="2"/>
<text class="t" x="636.9" y="496.3">Accuracy</text>
<line x1="608.4" y1="506.5" x2="629.7" y2="506.5" stroke="#d62728" stroke-width="2"/>
<text class="t" x="636.9" y="510.1">F1 Score</text>
<text class="L" x="3.3" y="493.8">b</text>
</svg></body></html>
